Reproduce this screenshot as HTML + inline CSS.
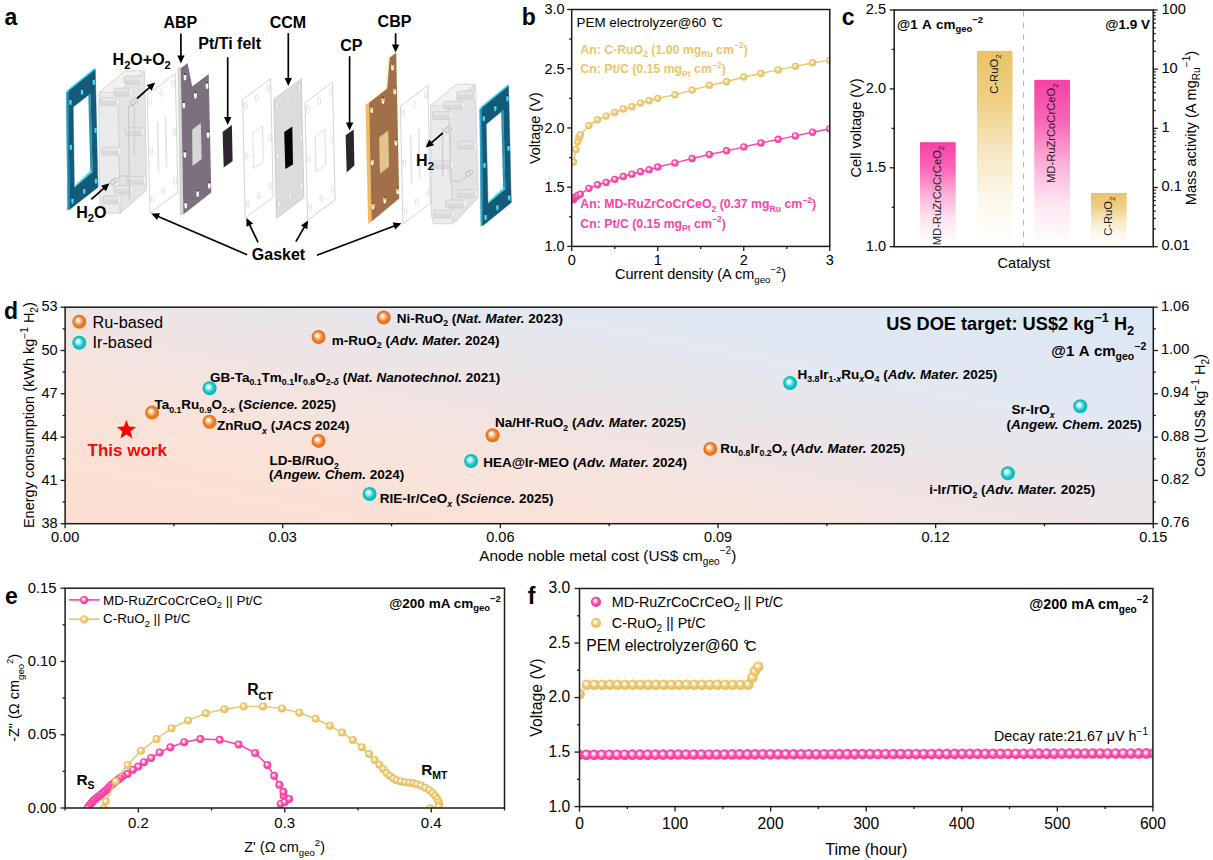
<!DOCTYPE html><html><head><meta charset="utf-8"><title>Figure</title><style>html,body{margin:0;padding:0;background:#fff;width:1213px;height:860px;overflow:hidden;}svg{display:block;font-family:"Liberation Sans", sans-serif;}</style></head><body><svg width="1213" height="860" viewBox="0 0 1213 860" font-family='"Liberation Sans", sans-serif'><defs><radialGradient id="gPink" cx="0.5" cy="0.5" r="0.5" fx="0.38" fy="0.36"><stop offset="0" stop-color="#ffffff"/><stop offset="0.14" stop-color="#ffffff" stop-opacity="0.95"/><stop offset="0.42" stop-color="#FB8FCB"/><stop offset="0.68" stop-color="#FC42A6"/><stop offset="1" stop-color="#F83C9E"/></radialGradient><radialGradient id="gGold" cx="0.5" cy="0.5" r="0.5" fx="0.38" fy="0.36"><stop offset="0" stop-color="#ffffff"/><stop offset="0.14" stop-color="#ffffff" stop-opacity="0.95"/><stop offset="0.42" stop-color="#F3DCA0"/><stop offset="0.68" stop-color="#EAC56A"/><stop offset="1" stop-color="#E6BE5E"/></radialGradient><radialGradient id="gOr" cx="0.5" cy="0.5" r="0.5" fx="0.38" fy="0.36"><stop offset="0" stop-color="#ffffff"/><stop offset="0.14" stop-color="#ffffff" stop-opacity="0.95"/><stop offset="0.42" stop-color="#F7B37A"/><stop offset="0.68" stop-color="#EE7D25"/><stop offset="1" stop-color="#E06E18"/></radialGradient><radialGradient id="gCy" cx="0.5" cy="0.5" r="0.5" fx="0.38" fy="0.36"><stop offset="0" stop-color="#ffffff"/><stop offset="0.14" stop-color="#ffffff" stop-opacity="0.95"/><stop offset="0.42" stop-color="#7BE3E4"/><stop offset="0.68" stop-color="#12C4C6"/><stop offset="1" stop-color="#0BB3B6"/></radialGradient><clipPath id="clipB"><rect x="571.70" y="9.50" width="258.10" height="236.90"/></clipPath><linearGradient id="cPink" x1="0" y1="0" x2="0" y2="1"><stop offset="0" stop-color="#F940A4" stop-opacity="1"/><stop offset="0.25" stop-color="#F940A4" stop-opacity="0.8"/><stop offset="0.5" stop-color="#F940A4" stop-opacity="0.42"/><stop offset="0.75" stop-color="#F940A4" stop-opacity="0.13"/><stop offset="1" stop-color="#F940A4" stop-opacity="0"/></linearGradient><linearGradient id="cGold" x1="0" y1="0" x2="0" y2="1"><stop offset="0" stop-color="#EAC364" stop-opacity="1"/><stop offset="0.25" stop-color="#EAC364" stop-opacity="0.8"/><stop offset="0.5" stop-color="#EAC364" stop-opacity="0.42"/><stop offset="0.75" stop-color="#EAC364" stop-opacity="0.13"/><stop offset="1" stop-color="#EAC364" stop-opacity="0"/></linearGradient><linearGradient id="dBg" x1="0" y1="1" x2="1" y2="0"><stop offset="0" stop-color="#FCDFD2"/><stop offset="0.3" stop-color="#F9E3DA"/><stop offset="0.5" stop-color="#EEE4E5"/><stop offset="0.72" stop-color="#E2E8F2"/><stop offset="1" stop-color="#DBE7F5"/></linearGradient><clipPath id="clipE"><rect x="65.10" y="588.20" width="439.40" height="219.80"/></clipPath><clipPath id="clipF"><rect x="579.50" y="588.50" width="573.40" height="218.10"/></clipPath></defs><text x="4.50" y="25.00" font-size="23.00" text-anchor="start" font-weight="bold" fill="#000" ><tspan>a</tspan></text><text x="521.80" y="25.00" font-size="23.00" text-anchor="start" font-weight="bold" fill="#000" ><tspan>b</tspan></text><text x="841.80" y="25.00" font-size="23.00" text-anchor="start" font-weight="bold" fill="#000" ><tspan>c</tspan></text><text x="4.00" y="318.50" font-size="23.00" text-anchor="start" font-weight="bold" fill="#000" ><tspan>d</tspan></text><text x="5.00" y="603.60" font-size="23.00" text-anchor="start" font-weight="bold" fill="#000" ><tspan>e</tspan></text><text x="527.70" y="604.00" font-size="23.00" text-anchor="start" font-weight="bold" fill="#000" ><tspan>f</tspan></text><line x1="571.70" y1="246.40" x2="571.70" y2="250.90" stroke="#1a1a1a" stroke-width="1.30" /><line x1="657.73" y1="246.40" x2="657.73" y2="250.90" stroke="#1a1a1a" stroke-width="1.30" /><line x1="743.77" y1="246.40" x2="743.77" y2="250.90" stroke="#1a1a1a" stroke-width="1.30" /><line x1="829.80" y1="246.40" x2="829.80" y2="250.90" stroke="#1a1a1a" stroke-width="1.30" /><line x1="614.72" y1="246.40" x2="614.72" y2="248.90" stroke="#1a1a1a" stroke-width="1.30" /><line x1="700.75" y1="246.40" x2="700.75" y2="248.90" stroke="#1a1a1a" stroke-width="1.30" /><line x1="786.78" y1="246.40" x2="786.78" y2="248.90" stroke="#1a1a1a" stroke-width="1.30" /><line x1="571.70" y1="246.40" x2="567.20" y2="246.40" stroke="#1a1a1a" stroke-width="1.30" /><line x1="571.70" y1="187.18" x2="567.20" y2="187.18" stroke="#1a1a1a" stroke-width="1.30" /><line x1="571.70" y1="127.95" x2="567.20" y2="127.95" stroke="#1a1a1a" stroke-width="1.30" /><line x1="571.70" y1="68.72" x2="567.20" y2="68.72" stroke="#1a1a1a" stroke-width="1.30" /><line x1="571.70" y1="9.50" x2="567.20" y2="9.50" stroke="#1a1a1a" stroke-width="1.30" /><line x1="571.70" y1="216.79" x2="569.20" y2="216.79" stroke="#1a1a1a" stroke-width="1.30" /><line x1="571.70" y1="157.56" x2="569.20" y2="157.56" stroke="#1a1a1a" stroke-width="1.30" /><line x1="571.70" y1="98.34" x2="569.20" y2="98.34" stroke="#1a1a1a" stroke-width="1.30" /><line x1="571.70" y1="39.11" x2="569.20" y2="39.11" stroke="#1a1a1a" stroke-width="1.30" /><text x="571.70" y="265.00" font-size="14.50" text-anchor="middle" fill="#000" ><tspan>0</tspan></text><text x="657.73" y="265.00" font-size="14.50" text-anchor="middle" fill="#000" ><tspan>1</tspan></text><text x="743.77" y="265.00" font-size="14.50" text-anchor="middle" fill="#000" ><tspan>2</tspan></text><text x="829.80" y="265.00" font-size="14.50" text-anchor="middle" fill="#000" ><tspan>3</tspan></text><text x="564.60" y="251.30" font-size="14.50" text-anchor="end" fill="#000" ><tspan>1.0</tspan></text><text x="564.60" y="192.08" font-size="14.50" text-anchor="end" fill="#000" ><tspan>1.5</tspan></text><text x="564.60" y="132.85" font-size="14.50" text-anchor="end" fill="#000" ><tspan>2.0</tspan></text><text x="564.60" y="73.62" font-size="14.50" text-anchor="end" fill="#000" ><tspan>2.5</tspan></text><text x="564.60" y="14.40" font-size="14.50" text-anchor="end" fill="#000" ><tspan>3.0</tspan></text><text x="700.50" y="278.60" font-size="14.50" text-anchor="middle" fill="#000" ><tspan>Current density (A cm</tspan><tspan dy="4.06" font-size="9.57">geo</tspan><tspan dy="-10.15" font-size="9.57">−2</tspan><tspan dy="6.09">)</tspan></text><text x="539.80" y="128.20" font-size="14.50" text-anchor="middle" fill="#000" transform="rotate(-90 539.80 128.20)" ><tspan>Voltage (V)</tspan></text><text x="576.60" y="26.70" font-size="13.40" text-anchor="start" fill="#000" ><tspan>PEM electrolyzer@60</tspan></text><text x="713.20" y="26.70" font-size="13.00" text-anchor="start" fill="#000" font-weight="normal"><tspan>C</tspan></text><circle cx="713.8" cy="19.4" r="1.35" fill="none" stroke="#000" stroke-width="0.8"/><text x="580.30" y="53.60" font-size="12.30" text-anchor="start" font-weight="bold" fill="#EAC56A" ><tspan>An: C-RuO</tspan><tspan dy="3.44" font-size="8.61">2</tspan><tspan dy="-3.44"> (1.00 mg</tspan><tspan dy="3.44" font-size="8.61">Ru</tspan><tspan dy="-3.44"> cm</tspan><tspan dy="-5.17" font-size="8.61">−2</tspan><tspan dy="5.17">)</tspan></text><text x="580.30" y="73.40" font-size="12.30" text-anchor="start" font-weight="bold" fill="#EAC56A" ><tspan>Cn: Pt/C (0.15 mg</tspan><tspan dy="3.44" font-size="8.61">Pt</tspan><tspan dy="-3.44"> cm</tspan><tspan dy="-5.17" font-size="8.61">−2</tspan><tspan dy="5.17">)</tspan></text><text x="580.30" y="208.30" font-size="12.30" text-anchor="start" font-weight="bold" fill="#FC42A6" ><tspan>An: MD-RuZrCoCrCeO</tspan><tspan dy="3.44" font-size="8.61">2</tspan><tspan dy="-3.44"> (0.37 mg</tspan><tspan dy="3.44" font-size="8.61">Ru</tspan><tspan dy="-3.44"> cm</tspan><tspan dy="-5.17" font-size="8.61">−2</tspan><tspan dy="5.17">)</tspan></text><text x="580.30" y="227.60" font-size="12.30" text-anchor="start" font-weight="bold" fill="#FC42A6" ><tspan>Cn: Pt/C (0.15 mg</tspan><tspan dy="3.44" font-size="8.61">Pt</tspan><tspan dy="-3.44"> cm</tspan><tspan dy="-5.17" font-size="8.61">−2</tspan><tspan dy="5.17">)</tspan></text><g clip-path="url(#clipB)"><polyline points="573.42,161.95 576.00,149.39 577.72,141.69 579.01,137.66 580.30,135.06 588.91,125.58 597.51,119.66 606.11,116.10 614.72,112.55 623.32,109.00 631.92,106.63 640.53,103.08 649.13,100.71 657.73,98.34 674.94,94.78 692.15,90.05 709.35,85.31 726.56,81.75 743.77,77.02 760.97,73.46 778.18,69.91 795.39,66.36 812.59,62.80 829.80,60.43" fill="none" stroke="#EAC56A" stroke-width="1.40" stroke-linejoin="round" /><circle cx="573.42" cy="161.95" r="3.70" fill="url(#gGold)"/><circle cx="576.00" cy="149.39" r="3.70" fill="url(#gGold)"/><circle cx="577.72" cy="141.69" r="3.70" fill="url(#gGold)"/><circle cx="579.01" cy="137.66" r="3.70" fill="url(#gGold)"/><circle cx="580.30" cy="135.06" r="3.70" fill="url(#gGold)"/><circle cx="588.91" cy="125.58" r="3.70" fill="url(#gGold)"/><circle cx="597.51" cy="119.66" r="3.70" fill="url(#gGold)"/><circle cx="606.11" cy="116.10" r="3.70" fill="url(#gGold)"/><circle cx="614.72" cy="112.55" r="3.70" fill="url(#gGold)"/><circle cx="623.32" cy="109.00" r="3.70" fill="url(#gGold)"/><circle cx="631.92" cy="106.63" r="3.70" fill="url(#gGold)"/><circle cx="640.53" cy="103.08" r="3.70" fill="url(#gGold)"/><circle cx="649.13" cy="100.71" r="3.70" fill="url(#gGold)"/><circle cx="657.73" cy="98.34" r="3.70" fill="url(#gGold)"/><circle cx="674.94" cy="94.78" r="3.70" fill="url(#gGold)"/><circle cx="692.15" cy="90.05" r="3.70" fill="url(#gGold)"/><circle cx="709.35" cy="85.31" r="3.70" fill="url(#gGold)"/><circle cx="726.56" cy="81.75" r="3.70" fill="url(#gGold)"/><circle cx="743.77" cy="77.02" r="3.70" fill="url(#gGold)"/><circle cx="760.97" cy="73.46" r="3.70" fill="url(#gGold)"/><circle cx="778.18" cy="69.91" r="3.70" fill="url(#gGold)"/><circle cx="795.39" cy="66.36" r="3.70" fill="url(#gGold)"/><circle cx="812.59" cy="62.80" r="3.70" fill="url(#gGold)"/><circle cx="829.80" cy="60.43" r="3.70" fill="url(#gGold)"/><polyline points="573.42,199.73 574.28,197.84 576.00,196.65 577.72,195.47 580.30,194.28 588.91,188.36 597.51,184.81 606.11,182.44 614.72,179.36 623.32,176.51 631.92,174.15 640.53,171.78 649.13,169.64 657.73,167.04 674.94,162.89 692.15,158.51 709.35,154.48 726.56,150.81 743.77,146.90 760.97,142.99 778.18,139.32 795.39,135.89 812.59,132.21 829.80,128.78" fill="none" stroke="#FC42A6" stroke-width="1.40" stroke-linejoin="round" /><circle cx="573.42" cy="199.73" r="3.70" fill="url(#gPink)"/><circle cx="574.28" cy="197.84" r="3.70" fill="url(#gPink)"/><circle cx="576.00" cy="196.65" r="3.70" fill="url(#gPink)"/><circle cx="577.72" cy="195.47" r="3.70" fill="url(#gPink)"/><circle cx="580.30" cy="194.28" r="3.70" fill="url(#gPink)"/><circle cx="588.91" cy="188.36" r="3.70" fill="url(#gPink)"/><circle cx="597.51" cy="184.81" r="3.70" fill="url(#gPink)"/><circle cx="606.11" cy="182.44" r="3.70" fill="url(#gPink)"/><circle cx="614.72" cy="179.36" r="3.70" fill="url(#gPink)"/><circle cx="623.32" cy="176.51" r="3.70" fill="url(#gPink)"/><circle cx="631.92" cy="174.15" r="3.70" fill="url(#gPink)"/><circle cx="640.53" cy="171.78" r="3.70" fill="url(#gPink)"/><circle cx="649.13" cy="169.64" r="3.70" fill="url(#gPink)"/><circle cx="657.73" cy="167.04" r="3.70" fill="url(#gPink)"/><circle cx="674.94" cy="162.89" r="3.70" fill="url(#gPink)"/><circle cx="692.15" cy="158.51" r="3.70" fill="url(#gPink)"/><circle cx="709.35" cy="154.48" r="3.70" fill="url(#gPink)"/><circle cx="726.56" cy="150.81" r="3.70" fill="url(#gPink)"/><circle cx="743.77" cy="146.90" r="3.70" fill="url(#gPink)"/><circle cx="760.97" cy="142.99" r="3.70" fill="url(#gPink)"/><circle cx="778.18" cy="139.32" r="3.70" fill="url(#gPink)"/><circle cx="795.39" cy="135.89" r="3.70" fill="url(#gPink)"/><circle cx="812.59" cy="132.21" r="3.70" fill="url(#gPink)"/><circle cx="829.80" cy="128.78" r="3.70" fill="url(#gPink)"/></g><rect x="571.70" y="9.50" width="258.10" height="236.90" fill="none" stroke="#1a1a1a" stroke-width="1.50"/><rect x="920.00" y="142.20" width="35.70" height="103.50" fill="url(#cPink)"/><text x="941.05" y="145.80" font-size="11.20" text-anchor="end" fill="#1a1a1a" transform="rotate(-90 941.05 145.80)" ><tspan>MD-RuZrCoCrCeO</tspan><tspan dy="3.14" font-size="7.84">2</tspan></text><rect x="977.00" y="50.90" width="35.50" height="194.80" fill="url(#cGold)"/><text x="997.95" y="54.50" font-size="11.20" text-anchor="end" fill="#1a1a1a" transform="rotate(-90 997.95 54.50)" ><tspan>C-RuO</tspan><tspan dy="3.14" font-size="7.84">2</tspan></text><rect x="1034.30" y="79.90" width="35.70" height="165.80" fill="url(#cPink)"/><text x="1055.35" y="83.50" font-size="11.20" text-anchor="end" fill="#1a1a1a" transform="rotate(-90 1055.35 83.50)" ><tspan>MD-RuZrCoCrCeO</tspan><tspan dy="3.14" font-size="7.84">2</tspan></text><rect x="1091.00" y="193.00" width="35.70" height="52.70" fill="url(#cGold)"/><text x="1112.05" y="196.60" font-size="11.20" text-anchor="end" fill="#1a1a1a" transform="rotate(-90 1112.05 196.60)" ><tspan>C-RuO</tspan><tspan dy="3.14" font-size="7.84">2</tspan></text><line x1="1023.60" y1="11.00" x2="1023.60" y2="246.70" stroke="#b0b0b0" stroke-width="1.00" stroke-dasharray="5.6,6"/><rect x="894.20" y="10.00" width="259.00" height="236.70" fill="none" stroke="#1a1a1a" stroke-width="1.50"/><line x1="894.20" y1="246.70" x2="889.70" y2="246.70" stroke="#1a1a1a" stroke-width="1.30" /><line x1="894.20" y1="167.80" x2="889.70" y2="167.80" stroke="#1a1a1a" stroke-width="1.30" /><line x1="894.20" y1="88.90" x2="889.70" y2="88.90" stroke="#1a1a1a" stroke-width="1.30" /><line x1="894.20" y1="10.00" x2="889.70" y2="10.00" stroke="#1a1a1a" stroke-width="1.30" /><line x1="894.20" y1="207.25" x2="891.70" y2="207.25" stroke="#1a1a1a" stroke-width="1.30" /><line x1="894.20" y1="128.35" x2="891.70" y2="128.35" stroke="#1a1a1a" stroke-width="1.30" /><line x1="894.20" y1="49.45" x2="891.70" y2="49.45" stroke="#1a1a1a" stroke-width="1.30" /><line x1="1153.20" y1="246.70" x2="1157.70" y2="246.70" stroke="#1a1a1a" stroke-width="1.30" /><line x1="1153.20" y1="187.52" x2="1157.70" y2="187.52" stroke="#1a1a1a" stroke-width="1.30" /><line x1="1153.20" y1="128.35" x2="1157.70" y2="128.35" stroke="#1a1a1a" stroke-width="1.30" /><line x1="1153.20" y1="69.18" x2="1157.70" y2="69.18" stroke="#1a1a1a" stroke-width="1.30" /><line x1="1153.20" y1="10.00" x2="1157.70" y2="10.00" stroke="#1a1a1a" stroke-width="1.30" /><line x1="1153.20" y1="228.89" x2="1155.70" y2="228.89" stroke="#1a1a1a" stroke-width="1.30" /><line x1="1153.20" y1="218.47" x2="1155.70" y2="218.47" stroke="#1a1a1a" stroke-width="1.30" /><line x1="1153.20" y1="211.07" x2="1155.70" y2="211.07" stroke="#1a1a1a" stroke-width="1.30" /><line x1="1153.20" y1="205.34" x2="1155.70" y2="205.34" stroke="#1a1a1a" stroke-width="1.30" /><line x1="1153.20" y1="200.65" x2="1155.70" y2="200.65" stroke="#1a1a1a" stroke-width="1.30" /><line x1="1153.20" y1="196.69" x2="1155.70" y2="196.69" stroke="#1a1a1a" stroke-width="1.30" /><line x1="1153.20" y1="193.26" x2="1155.70" y2="193.26" stroke="#1a1a1a" stroke-width="1.30" /><line x1="1153.20" y1="190.23" x2="1155.70" y2="190.23" stroke="#1a1a1a" stroke-width="1.30" /><line x1="1153.20" y1="169.71" x2="1155.70" y2="169.71" stroke="#1a1a1a" stroke-width="1.30" /><line x1="1153.20" y1="159.29" x2="1155.70" y2="159.29" stroke="#1a1a1a" stroke-width="1.30" /><line x1="1153.20" y1="151.90" x2="1155.70" y2="151.90" stroke="#1a1a1a" stroke-width="1.30" /><line x1="1153.20" y1="146.16" x2="1155.70" y2="146.16" stroke="#1a1a1a" stroke-width="1.30" /><line x1="1153.20" y1="141.48" x2="1155.70" y2="141.48" stroke="#1a1a1a" stroke-width="1.30" /><line x1="1153.20" y1="137.52" x2="1155.70" y2="137.52" stroke="#1a1a1a" stroke-width="1.30" /><line x1="1153.20" y1="134.08" x2="1155.70" y2="134.08" stroke="#1a1a1a" stroke-width="1.30" /><line x1="1153.20" y1="131.06" x2="1155.70" y2="131.06" stroke="#1a1a1a" stroke-width="1.30" /><line x1="1153.20" y1="110.54" x2="1155.70" y2="110.54" stroke="#1a1a1a" stroke-width="1.30" /><line x1="1153.20" y1="100.12" x2="1155.70" y2="100.12" stroke="#1a1a1a" stroke-width="1.30" /><line x1="1153.20" y1="92.72" x2="1155.70" y2="92.72" stroke="#1a1a1a" stroke-width="1.30" /><line x1="1153.20" y1="86.99" x2="1155.70" y2="86.99" stroke="#1a1a1a" stroke-width="1.30" /><line x1="1153.20" y1="82.30" x2="1155.70" y2="82.30" stroke="#1a1a1a" stroke-width="1.30" /><line x1="1153.20" y1="78.34" x2="1155.70" y2="78.34" stroke="#1a1a1a" stroke-width="1.30" /><line x1="1153.20" y1="74.91" x2="1155.70" y2="74.91" stroke="#1a1a1a" stroke-width="1.30" /><line x1="1153.20" y1="71.88" x2="1155.70" y2="71.88" stroke="#1a1a1a" stroke-width="1.30" /><line x1="1153.20" y1="51.36" x2="1155.70" y2="51.36" stroke="#1a1a1a" stroke-width="1.30" /><line x1="1153.20" y1="40.94" x2="1155.70" y2="40.94" stroke="#1a1a1a" stroke-width="1.30" /><line x1="1153.20" y1="33.55" x2="1155.70" y2="33.55" stroke="#1a1a1a" stroke-width="1.30" /><line x1="1153.20" y1="27.81" x2="1155.70" y2="27.81" stroke="#1a1a1a" stroke-width="1.30" /><line x1="1153.20" y1="23.13" x2="1155.70" y2="23.13" stroke="#1a1a1a" stroke-width="1.30" /><line x1="1153.20" y1="19.17" x2="1155.70" y2="19.17" stroke="#1a1a1a" stroke-width="1.30" /><line x1="1153.20" y1="15.73" x2="1155.70" y2="15.73" stroke="#1a1a1a" stroke-width="1.30" /><line x1="1153.20" y1="12.71" x2="1155.70" y2="12.71" stroke="#1a1a1a" stroke-width="1.30" /><text x="886.10" y="250.50" font-size="14.60" text-anchor="end" fill="#000" ><tspan>1.0</tspan></text><text x="886.10" y="171.60" font-size="14.60" text-anchor="end" fill="#000" ><tspan>1.5</tspan></text><text x="886.10" y="92.70" font-size="14.60" text-anchor="end" fill="#000" ><tspan>2.0</tspan></text><text x="886.10" y="13.80" font-size="14.60" text-anchor="end" fill="#000" ><tspan>2.5</tspan></text><text x="1161.50" y="250.40" font-size="14.60" text-anchor="start" fill="#000" ><tspan>0.01</tspan></text><text x="1161.50" y="191.22" font-size="14.60" text-anchor="start" fill="#000" ><tspan>0.1</tspan></text><text x="1161.50" y="132.05" font-size="14.60" text-anchor="start" fill="#000" ><tspan>1</tspan></text><text x="1161.50" y="72.88" font-size="14.60" text-anchor="start" fill="#000" ><tspan>10</tspan></text><text x="1161.50" y="13.70" font-size="14.60" text-anchor="start" fill="#000" ><tspan>100</tspan></text><text x="1023.80" y="267.60" font-size="14.50" text-anchor="middle" fill="#000" ><tspan>Catalyst</tspan></text><text x="860.60" y="128.00" font-size="14.50" text-anchor="middle" fill="#000" transform="rotate(-90 860.60 128.00)" ><tspan>Cell voltage (V)</tspan></text><text x="1196.00" y="128.00" font-size="14.50" text-anchor="middle" fill="#000" transform="rotate(-90 1196.00 128.00)" ><tspan>Mass activity (A mg</tspan><tspan dy="4.06" font-size="10.15">Ru</tspan><tspan dy="-10.15" font-size="10.15">−1</tspan><tspan dy="6.09">)</tspan></text><text x="897.00" y="28.70" font-size="13.50" text-anchor="start" font-weight="bold" fill="#000" word-spacing="1"><tspan>@1 A cm</tspan><tspan dy="3.78" font-size="9.45">geo</tspan><tspan dy="-9.45" font-size="9.45">−2</tspan></text><text x="1150.00" y="28.70" font-size="13.50" text-anchor="end" font-weight="bold" fill="#000" ><tspan>@1.9 V</tspan></text><rect x="65.10" y="307.20" width="1088.20" height="216.50" fill="url(#dBg)"/><rect x="65.10" y="307.20" width="1088.20" height="216.50" fill="none" stroke="#1a1a1a" stroke-width="1.50"/><line x1="65.10" y1="523.70" x2="65.10" y2="528.20" stroke="#1a1a1a" stroke-width="1.30" /><line x1="282.74" y1="523.70" x2="282.74" y2="528.20" stroke="#1a1a1a" stroke-width="1.30" /><line x1="500.38" y1="523.70" x2="500.38" y2="528.20" stroke="#1a1a1a" stroke-width="1.30" /><line x1="718.02" y1="523.70" x2="718.02" y2="528.20" stroke="#1a1a1a" stroke-width="1.30" /><line x1="935.66" y1="523.70" x2="935.66" y2="528.20" stroke="#1a1a1a" stroke-width="1.30" /><line x1="1153.30" y1="523.70" x2="1153.30" y2="528.20" stroke="#1a1a1a" stroke-width="1.30" /><line x1="173.92" y1="523.70" x2="173.92" y2="526.20" stroke="#1a1a1a" stroke-width="1.30" /><line x1="391.56" y1="523.70" x2="391.56" y2="526.20" stroke="#1a1a1a" stroke-width="1.30" /><line x1="609.20" y1="523.70" x2="609.20" y2="526.20" stroke="#1a1a1a" stroke-width="1.30" /><line x1="826.84" y1="523.70" x2="826.84" y2="526.20" stroke="#1a1a1a" stroke-width="1.30" /><line x1="1044.48" y1="523.70" x2="1044.48" y2="526.20" stroke="#1a1a1a" stroke-width="1.30" /><line x1="65.10" y1="523.70" x2="60.60" y2="523.70" stroke="#1a1a1a" stroke-width="1.30" /><line x1="65.10" y1="480.40" x2="60.60" y2="480.40" stroke="#1a1a1a" stroke-width="1.30" /><line x1="65.10" y1="437.10" x2="60.60" y2="437.10" stroke="#1a1a1a" stroke-width="1.30" /><line x1="65.10" y1="393.80" x2="60.60" y2="393.80" stroke="#1a1a1a" stroke-width="1.30" /><line x1="65.10" y1="350.50" x2="60.60" y2="350.50" stroke="#1a1a1a" stroke-width="1.30" /><line x1="65.10" y1="307.20" x2="60.60" y2="307.20" stroke="#1a1a1a" stroke-width="1.30" /><line x1="65.10" y1="502.05" x2="62.60" y2="502.05" stroke="#1a1a1a" stroke-width="1.30" /><line x1="65.10" y1="458.75" x2="62.60" y2="458.75" stroke="#1a1a1a" stroke-width="1.30" /><line x1="65.10" y1="415.45" x2="62.60" y2="415.45" stroke="#1a1a1a" stroke-width="1.30" /><line x1="65.10" y1="372.15" x2="62.60" y2="372.15" stroke="#1a1a1a" stroke-width="1.30" /><line x1="65.10" y1="328.85" x2="62.60" y2="328.85" stroke="#1a1a1a" stroke-width="1.30" /><line x1="1153.30" y1="523.70" x2="1157.80" y2="523.70" stroke="#1a1a1a" stroke-width="1.30" /><line x1="1153.30" y1="480.40" x2="1157.80" y2="480.40" stroke="#1a1a1a" stroke-width="1.30" /><line x1="1153.30" y1="437.10" x2="1157.80" y2="437.10" stroke="#1a1a1a" stroke-width="1.30" /><line x1="1153.30" y1="393.80" x2="1157.80" y2="393.80" stroke="#1a1a1a" stroke-width="1.30" /><line x1="1153.30" y1="350.50" x2="1157.80" y2="350.50" stroke="#1a1a1a" stroke-width="1.30" /><line x1="1153.30" y1="307.20" x2="1157.80" y2="307.20" stroke="#1a1a1a" stroke-width="1.30" /><line x1="1153.30" y1="502.05" x2="1155.80" y2="502.05" stroke="#1a1a1a" stroke-width="1.30" /><line x1="1153.30" y1="458.75" x2="1155.80" y2="458.75" stroke="#1a1a1a" stroke-width="1.30" /><line x1="1153.30" y1="415.45" x2="1155.80" y2="415.45" stroke="#1a1a1a" stroke-width="1.30" /><line x1="1153.30" y1="372.15" x2="1155.80" y2="372.15" stroke="#1a1a1a" stroke-width="1.30" /><line x1="1153.30" y1="328.85" x2="1155.80" y2="328.85" stroke="#1a1a1a" stroke-width="1.30" /><text x="65.10" y="541.80" font-size="14.50" text-anchor="middle" fill="#000" ><tspan>0.00</tspan></text><text x="282.74" y="541.80" font-size="14.50" text-anchor="middle" fill="#000" ><tspan>0.03</tspan></text><text x="500.38" y="541.80" font-size="14.50" text-anchor="middle" fill="#000" ><tspan>0.06</tspan></text><text x="718.02" y="541.80" font-size="14.50" text-anchor="middle" fill="#000" ><tspan>0.09</tspan></text><text x="935.66" y="541.80" font-size="14.50" text-anchor="middle" fill="#000" ><tspan>0.12</tspan></text><text x="1153.30" y="541.80" font-size="14.50" text-anchor="middle" fill="#000" ><tspan>0.15</tspan></text><text x="57.60" y="527.90" font-size="14.50" text-anchor="end" fill="#000" ><tspan>38</tspan></text><text x="57.60" y="484.60" font-size="14.50" text-anchor="end" fill="#000" ><tspan>41</tspan></text><text x="57.60" y="441.30" font-size="14.50" text-anchor="end" fill="#000" ><tspan>44</tspan></text><text x="57.60" y="398.00" font-size="14.50" text-anchor="end" fill="#000" ><tspan>47</tspan></text><text x="57.60" y="354.70" font-size="14.50" text-anchor="end" fill="#000" ><tspan>50</tspan></text><text x="57.60" y="311.40" font-size="14.50" text-anchor="end" fill="#000" ><tspan>53</tspan></text><text x="1161.00" y="527.30" font-size="14.50" text-anchor="start" fill="#000" ><tspan>0.76</tspan></text><text x="1161.00" y="484.00" font-size="14.50" text-anchor="start" fill="#000" ><tspan>0.82</tspan></text><text x="1161.00" y="440.70" font-size="14.50" text-anchor="start" fill="#000" ><tspan>0.88</tspan></text><text x="1161.00" y="397.40" font-size="14.50" text-anchor="start" fill="#000" ><tspan>0.94</tspan></text><text x="1161.00" y="354.10" font-size="14.50" text-anchor="start" fill="#000" ><tspan>1.00</tspan></text><text x="1161.00" y="310.80" font-size="14.50" text-anchor="start" fill="#000" ><tspan>1.06</tspan></text><text x="479.20" y="560.90" font-size="15.30" text-anchor="start" fill="#000" ><tspan>Anode noble metal cost (US$ cm</tspan><tspan dy="4.28" font-size="10.10">geo</tspan><tspan dy="-10.71" font-size="10.10">−2</tspan><tspan dy="6.43">)</tspan></text><text x="34.00" y="415.10" font-size="14.50" text-anchor="middle" fill="#000" transform="rotate(-90 34.00 415.10)" ><tspan>Energy consumption (kWh kg</tspan><tspan dy="-6.09" font-size="10.15">−1</tspan><tspan dy="6.09"> H</tspan><tspan dy="4.06" font-size="10.15">2</tspan><tspan dy="-4.06">)</tspan></text><text x="1205.20" y="415.50" font-size="14.50" text-anchor="middle" fill="#000" transform="rotate(-90 1205.20 415.50)" ><tspan>Cost (US$ kg</tspan><tspan dy="-6.09" font-size="10.15">−1</tspan><tspan dy="6.09"> H</tspan><tspan dy="4.06" font-size="10.15">2</tspan><tspan dy="-4.06">)</tspan></text><circle cx="79.30" cy="321.80" r="7.00" fill="url(#gOr)"/><text x="92.50" y="328.40" font-size="16.30" text-anchor="start" fill="#000" ><tspan>Ru-based</tspan></text><circle cx="79.30" cy="342.80" r="7.00" fill="url(#gCy)"/><text x="92.50" y="348.20" font-size="16.30" text-anchor="start" fill="#000" ><tspan>Ir-based</tspan></text><text x="886.20" y="329.80" font-size="18.20" text-anchor="start" font-weight="bold" fill="#000" ><tspan>US DOE target: US$2 kg</tspan><tspan dy="-7.64" font-size="12.74">−1</tspan><tspan dy="7.64"> H</tspan><tspan dy="5.10" font-size="12.74">2</tspan></text><text x="1051.30" y="356.00" font-size="15.00" text-anchor="start" font-weight="bold" fill="#000" word-spacing="0.8"><tspan>@1 A cm</tspan><tspan dy="4.20" font-size="10.50">geo</tspan><tspan dy="-10.50" font-size="10.50">−2</tspan></text><circle cx="383.70" cy="317.50" r="7.00" fill="url(#gOr)"/><circle cx="318.60" cy="337.00" r="7.00" fill="url(#gOr)"/><circle cx="209.60" cy="388.30" r="7.00" fill="url(#gCy)"/><circle cx="152.00" cy="412.60" r="7.00" fill="url(#gOr)"/><circle cx="209.60" cy="421.70" r="7.00" fill="url(#gOr)"/><circle cx="318.50" cy="440.90" r="7.00" fill="url(#gOr)"/><circle cx="369.60" cy="494.00" r="7.00" fill="url(#gCy)"/><circle cx="492.60" cy="435.30" r="7.00" fill="url(#gOr)"/><circle cx="471.10" cy="461.00" r="7.00" fill="url(#gCy)"/><circle cx="710.30" cy="448.90" r="7.00" fill="url(#gOr)"/><circle cx="790.10" cy="383.10" r="7.00" fill="url(#gCy)"/><circle cx="1080.30" cy="406.30" r="7.00" fill="url(#gCy)"/><circle cx="1007.90" cy="473.30" r="7.00" fill="url(#gCy)"/><polygon points="126.40,419.90 128.93,426.62 136.10,426.95 130.49,431.43 132.40,438.35 126.40,434.40 120.40,438.35 122.31,431.43 116.70,426.95 123.87,426.62" fill="#FF0000" stroke="none" stroke-width="1.00" /><text x="87.60" y="455.70" font-size="17.00" text-anchor="start" font-weight="bold" fill="#F50A0A" ><tspan>This work</tspan></text><text x="396.70" y="322.60" font-size="13.50" text-anchor="start" font-weight="bold" fill="#000" ><tspan>Ni-RuO</tspan><tspan dy="3.78" font-size="8.78">2</tspan><tspan dy="-3.78"> (</tspan><tspan font-style="italic">Nat. Mater.</tspan><tspan> 2023)</tspan></text><text x="331.80" y="344.50" font-size="13.50" text-anchor="start" font-weight="bold" fill="#000" ><tspan>m-RuO</tspan><tspan dy="3.78" font-size="8.78">2</tspan><tspan dy="-3.78"> (</tspan><tspan font-style="italic">Adv. Mater.</tspan><tspan> 2024)</tspan></text><text x="209.90" y="381.70" font-size="13.50" text-anchor="start" font-weight="bold" fill="#000" ><tspan>GB-Ta</tspan><tspan dy="3.78" font-size="8.78">0.1</tspan><tspan dy="-3.78">Tm</tspan><tspan dy="3.78" font-size="8.78">0.1</tspan><tspan dy="-3.78">Ir</tspan><tspan dy="3.78" font-size="8.78">0.8</tspan><tspan dy="-3.78">O</tspan><tspan dy="3.78" font-size="8.78">2-</tspan><tspan font-size="8.78" font-style="italic">δ</tspan><tspan dy="-3.78"> (</tspan><tspan font-style="italic">Nat. Nanotechnol.</tspan><tspan> 2021)</tspan></text><text x="154.40" y="408.80" font-size="13.50" text-anchor="start" font-weight="bold" fill="#000" ><tspan>Ta</tspan><tspan dy="3.78" font-size="8.78">0.1</tspan><tspan dy="-3.78">Ru</tspan><tspan dy="3.78" font-size="8.78">0.9</tspan><tspan dy="-3.78">O</tspan><tspan dy="3.78" font-size="8.78">2-</tspan><tspan font-size="8.78" font-style="italic">x</tspan><tspan dy="-3.78"> (</tspan><tspan font-style="italic">Science.</tspan><tspan> 2025)</tspan></text><text x="217.00" y="430.20" font-size="13.50" text-anchor="start" font-weight="bold" fill="#000" ><tspan>ZnRuO</tspan><tspan dy="3.78" font-size="8.78" font-style="italic">x</tspan><tspan dy="-3.78"> (</tspan><tspan font-style="italic">JACS</tspan><tspan> 2024)</tspan></text><text x="269.40" y="464.80" font-size="13.50" text-anchor="start" font-weight="bold" fill="#000" ><tspan>LD-B/RuO</tspan><tspan dy="3.78" font-size="8.78">2</tspan></text><text x="268.90" y="479.00" font-size="13.50" text-anchor="start" font-weight="bold" fill="#000" ><tspan>(</tspan><tspan font-style="italic">Angew. Chem.</tspan><tspan> 2024)</tspan></text><text x="379.70" y="502.90" font-size="13.50" text-anchor="start" font-weight="bold" fill="#000" ><tspan>RIE-Ir/CeO</tspan><tspan dy="3.78" font-size="8.78" font-style="italic">x</tspan><tspan dy="-3.78"> (</tspan><tspan font-style="italic">Science.</tspan><tspan> 2025)</tspan></text><text x="495.10" y="427.00" font-size="13.50" text-anchor="start" font-weight="bold" fill="#000" ><tspan>Na/Hf-RuO</tspan><tspan dy="3.78" font-size="8.78">2</tspan><tspan dy="-3.78"> (</tspan><tspan font-style="italic">Adv. Mater.</tspan><tspan> 2025)</tspan></text><text x="483.20" y="467.00" font-size="13.50" text-anchor="start" font-weight="bold" fill="#000" ><tspan>HEA@Ir-MEO (</tspan><tspan font-style="italic">Adv. Mater.</tspan><tspan> 2024)</tspan></text><text x="720.30" y="452.70" font-size="13.50" text-anchor="start" font-weight="bold" fill="#000" ><tspan>Ru</tspan><tspan dy="3.78" font-size="8.78">0.8</tspan><tspan dy="-3.78">Ir</tspan><tspan dy="3.78" font-size="8.78">0.2</tspan><tspan dy="-3.78">O</tspan><tspan dy="3.78" font-size="8.78" font-style="italic">x</tspan><tspan dy="-3.78"> (</tspan><tspan font-style="italic">Adv. Mater.</tspan><tspan> 2025)</tspan></text><text x="797.50" y="378.50" font-size="13.50" text-anchor="start" font-weight="bold" fill="#000" ><tspan>H</tspan><tspan dy="3.78" font-size="8.78">3.8</tspan><tspan dy="-3.78">Ir</tspan><tspan dy="3.78" font-size="8.78">1-</tspan><tspan font-size="8.78" font-style="italic">x</tspan><tspan dy="-3.78">Ru</tspan><tspan dy="3.78" font-size="8.78" font-style="italic">x</tspan><tspan dy="-3.78">O</tspan><tspan dy="3.78" font-size="8.78">4</tspan><tspan dy="-3.78"> (</tspan><tspan font-style="italic">Adv. Mater.</tspan><tspan> 2025)</tspan></text><text x="1011.60" y="413.80" font-size="13.50" text-anchor="start" font-weight="bold" fill="#000" ><tspan>Sr-IrO</tspan><tspan dy="3.78" font-size="8.78" font-style="italic">x</tspan></text><text x="1006.40" y="428.60" font-size="13.50" text-anchor="start" font-weight="bold" fill="#000" ><tspan>(</tspan><tspan font-style="italic">Angew. Chem.</tspan><tspan> 2025)</tspan></text><text x="929.20" y="494.30" font-size="13.50" text-anchor="start" font-weight="bold" fill="#000" ><tspan>i-Ir/TiO</tspan><tspan dy="3.78" font-size="8.78">2</tspan><tspan dy="-3.78"> (</tspan><tspan font-style="italic">Adv. Mater.</tspan><tspan> 2025)</tspan></text><line x1="138.33" y1="808.00" x2="138.33" y2="812.50" stroke="#1a1a1a" stroke-width="1.30" /><line x1="284.80" y1="808.00" x2="284.80" y2="812.50" stroke="#1a1a1a" stroke-width="1.30" /><line x1="431.27" y1="808.00" x2="431.27" y2="812.50" stroke="#1a1a1a" stroke-width="1.30" /><line x1="65.10" y1="808.00" x2="65.10" y2="810.50" stroke="#1a1a1a" stroke-width="1.30" /><line x1="211.57" y1="808.00" x2="211.57" y2="810.50" stroke="#1a1a1a" stroke-width="1.30" /><line x1="358.03" y1="808.00" x2="358.03" y2="810.50" stroke="#1a1a1a" stroke-width="1.30" /><line x1="504.50" y1="808.00" x2="504.50" y2="810.50" stroke="#1a1a1a" stroke-width="1.30" /><line x1="65.10" y1="808.00" x2="60.60" y2="808.00" stroke="#1a1a1a" stroke-width="1.30" /><line x1="65.10" y1="734.73" x2="60.60" y2="734.73" stroke="#1a1a1a" stroke-width="1.30" /><line x1="65.10" y1="661.47" x2="60.60" y2="661.47" stroke="#1a1a1a" stroke-width="1.30" /><line x1="65.10" y1="588.20" x2="60.60" y2="588.20" stroke="#1a1a1a" stroke-width="1.30" /><line x1="65.10" y1="771.37" x2="62.60" y2="771.37" stroke="#1a1a1a" stroke-width="1.30" /><line x1="65.10" y1="698.10" x2="62.60" y2="698.10" stroke="#1a1a1a" stroke-width="1.30" /><line x1="65.10" y1="624.83" x2="62.60" y2="624.83" stroke="#1a1a1a" stroke-width="1.30" /><text x="138.33" y="828.10" font-size="15.00" text-anchor="middle" fill="#000" ><tspan>0.2</tspan></text><text x="284.80" y="828.10" font-size="15.00" text-anchor="middle" fill="#000" ><tspan>0.3</tspan></text><text x="431.27" y="828.10" font-size="15.00" text-anchor="middle" fill="#000" ><tspan>0.4</tspan></text><text x="56.60" y="812.60" font-size="14.80" text-anchor="end" fill="#000" ><tspan>0.00</tspan></text><text x="56.60" y="739.33" font-size="14.80" text-anchor="end" fill="#000" ><tspan>0.05</tspan></text><text x="56.60" y="666.07" font-size="14.80" text-anchor="end" fill="#000" ><tspan>0.10</tspan></text><text x="56.60" y="592.80" font-size="14.80" text-anchor="end" fill="#000" ><tspan>0.15</tspan></text><text x="284.60" y="851.80" font-size="14.50" text-anchor="middle" fill="#000" ><tspan>Z&#x27; (Ω cm</tspan><tspan dy="4.06" font-size="9.57">geo</tspan><tspan dy="-10.15" font-size="9.57">2</tspan><tspan dy="6.09">)</tspan></text><text x="19.50" y="697.80" font-size="14.50" text-anchor="middle" fill="#000" transform="rotate(-90 19.50 697.80)" ><tspan>-Z&quot; (Ω cm</tspan><tspan dy="4.06" font-size="9.57">geo</tspan><tspan dy="-10.15" font-size="9.57">2</tspan><tspan dy="6.09">)</tspan></text><line x1="69.00" y1="599.90" x2="99.60" y2="599.90" stroke="#FC42A6" stroke-width="1.60" /><circle cx="84.20" cy="600.10" r="4.20" fill="url(#gPink)"/><line x1="69.00" y1="619.20" x2="99.60" y2="619.20" stroke="#EAC56A" stroke-width="1.60" /><circle cx="84.20" cy="619.40" r="4.20" fill="url(#gGold)"/><text x="103.00" y="604.50" font-size="13.40" text-anchor="start" fill="#000" ><tspan>MD-RuZrCoCrCeO</tspan><tspan dy="3.75" font-size="9.38">2</tspan><tspan dy="-3.75"> || Pt/C</tspan></text><text x="103.00" y="623.40" font-size="13.40" text-anchor="start" fill="#000" ><tspan>C-RuO</tspan><tspan dy="3.75" font-size="9.38">2</tspan><tspan dy="-3.75"> || Pt/C</tspan></text><text x="389.20" y="607.50" font-size="13.50" text-anchor="start" font-weight="bold" fill="#000" ><tspan>@200 mA cm</tspan><tspan dy="3.78" font-size="9.45">geo</tspan><tspan dy="-9.45" font-size="9.45">−2</tspan></text><text x="247.20" y="695.40" font-size="15.80" text-anchor="start" font-weight="bold" fill="#000" ><tspan>R</tspan><tspan dy="4.27" font-size="10.74">CT</tspan></text><text x="76.40" y="785.00" font-size="15.40" text-anchor="start" font-weight="bold" fill="#000" ><tspan>R</tspan><tspan dy="4.16" font-size="10.47">S</tspan></text><text x="421.20" y="774.70" font-size="15.40" text-anchor="start" font-weight="bold" fill="#000" ><tspan>R</tspan><tspan dy="4.16" font-size="10.47">MT</tspan></text><g clip-path="url(#clipE)"><polyline points="87.50,808.50 88.52,806.90 89.57,805.24 90.79,803.65 92.21,802.13 93.66,800.57 95.31,799.11 97.06,797.66 98.85,796.17 100.70,794.63 102.61,793.04 104.57,791.41 106.58,789.72 108.50,787.80 110.47,785.83 112.64,783.94 114.88,782.01 117.31,780.18 119.87,778.35 122.54,776.52 127.50,774.00 132.90,769.70 138.20,766.50 144.00,762.20 151.10,757.90 159.70,752.50 170.40,747.20 184.30,742.20 200.40,739.00 219.70,739.70 238.60,744.40 255.10,753.00 267.40,765.00 274.20,775.80 279.40,784.80 283.40,791.80 283.60,795.70 289.10,798.90 284.80,802.00 280.60,804.00" fill="none" stroke="#FC42A6" stroke-width="1.50" stroke-linejoin="round" /><circle cx="280.60" cy="804.00" r="4.00" fill="url(#gPink)"/><circle cx="284.80" cy="802.00" r="4.00" fill="url(#gPink)"/><circle cx="289.10" cy="798.90" r="4.00" fill="url(#gPink)"/><circle cx="283.60" cy="795.70" r="4.00" fill="url(#gPink)"/><circle cx="283.40" cy="791.80" r="4.00" fill="url(#gPink)"/><circle cx="279.40" cy="784.80" r="4.00" fill="url(#gPink)"/><circle cx="274.20" cy="775.80" r="4.00" fill="url(#gPink)"/><circle cx="267.40" cy="765.00" r="4.00" fill="url(#gPink)"/><circle cx="255.10" cy="753.00" r="4.00" fill="url(#gPink)"/><circle cx="238.60" cy="744.40" r="4.00" fill="url(#gPink)"/><circle cx="219.70" cy="739.70" r="4.00" fill="url(#gPink)"/><circle cx="200.40" cy="739.00" r="4.00" fill="url(#gPink)"/><circle cx="184.30" cy="742.20" r="4.00" fill="url(#gPink)"/><circle cx="170.40" cy="747.20" r="4.00" fill="url(#gPink)"/><circle cx="159.70" cy="752.50" r="4.00" fill="url(#gPink)"/><circle cx="151.10" cy="757.90" r="4.00" fill="url(#gPink)"/><circle cx="144.00" cy="762.20" r="4.00" fill="url(#gPink)"/><circle cx="138.20" cy="766.50" r="4.00" fill="url(#gPink)"/><circle cx="132.90" cy="769.70" r="4.00" fill="url(#gPink)"/><circle cx="127.50" cy="774.00" r="4.00" fill="url(#gPink)"/><circle cx="122.54" cy="776.52" r="4.00" fill="url(#gPink)"/><circle cx="119.87" cy="778.35" r="4.00" fill="url(#gPink)"/><circle cx="117.31" cy="780.18" r="4.00" fill="url(#gPink)"/><circle cx="114.88" cy="782.01" r="4.00" fill="url(#gPink)"/><circle cx="112.64" cy="783.94" r="4.00" fill="url(#gPink)"/><circle cx="110.47" cy="785.83" r="4.00" fill="url(#gPink)"/><circle cx="108.50" cy="787.80" r="4.00" fill="url(#gPink)"/><circle cx="106.58" cy="789.72" r="4.00" fill="url(#gPink)"/><circle cx="104.57" cy="791.41" r="4.00" fill="url(#gPink)"/><circle cx="102.61" cy="793.04" r="4.00" fill="url(#gPink)"/><circle cx="100.70" cy="794.63" r="4.00" fill="url(#gPink)"/><circle cx="98.85" cy="796.17" r="4.00" fill="url(#gPink)"/><circle cx="97.06" cy="797.66" r="4.00" fill="url(#gPink)"/><circle cx="95.31" cy="799.11" r="4.00" fill="url(#gPink)"/><circle cx="93.66" cy="800.57" r="4.00" fill="url(#gPink)"/><circle cx="92.21" cy="802.13" r="4.00" fill="url(#gPink)"/><circle cx="90.79" cy="803.65" r="4.00" fill="url(#gPink)"/><circle cx="89.57" cy="805.24" r="4.00" fill="url(#gPink)"/><circle cx="88.52" cy="806.90" r="4.00" fill="url(#gPink)"/><circle cx="87.50" cy="808.50" r="4.00" fill="url(#gPink)"/><polyline points="103.70,808.20 105.80,801.30 115.60,781.40 127.60,764.90 141.00,750.80 156.50,739.00 171.50,728.30 188.00,720.40 205.80,713.30 224.40,709.20 243.70,706.40 263.00,706.40 282.00,708.40 299.40,712.70 315.60,718.80 329.90,725.70 342.00,732.60 352.90,739.90 361.80,747.20 368.90,754.10 374.60,759.90 379.40,764.80 383.30,768.90 386.70,773.10 390.00,776.00 393.40,778.50 396.70,780.20 400.90,781.40 405.10,782.30 409.30,782.80 413.50,783.30 416.80,784.20 421.00,785.60 425.20,787.70 429.40,790.20 432.70,793.10 435.20,796.10 437.30,799.00 438.60,801.90 439.40,804.40 438.80,806.60 430.20,808.30" fill="none" stroke="#EAC56A" stroke-width="1.50" stroke-linejoin="round" /><circle cx="103.70" cy="808.20" r="4.00" fill="url(#gGold)"/><circle cx="105.80" cy="801.30" r="4.00" fill="url(#gGold)"/><circle cx="115.60" cy="781.40" r="4.00" fill="url(#gGold)"/><circle cx="127.60" cy="764.90" r="4.00" fill="url(#gGold)"/><circle cx="141.00" cy="750.80" r="4.00" fill="url(#gGold)"/><circle cx="156.50" cy="739.00" r="4.00" fill="url(#gGold)"/><circle cx="171.50" cy="728.30" r="4.00" fill="url(#gGold)"/><circle cx="188.00" cy="720.40" r="4.00" fill="url(#gGold)"/><circle cx="205.80" cy="713.30" r="4.00" fill="url(#gGold)"/><circle cx="224.40" cy="709.20" r="4.00" fill="url(#gGold)"/><circle cx="243.70" cy="706.40" r="4.00" fill="url(#gGold)"/><circle cx="263.00" cy="706.40" r="4.00" fill="url(#gGold)"/><circle cx="282.00" cy="708.40" r="4.00" fill="url(#gGold)"/><circle cx="299.40" cy="712.70" r="4.00" fill="url(#gGold)"/><circle cx="315.60" cy="718.80" r="4.00" fill="url(#gGold)"/><circle cx="329.90" cy="725.70" r="4.00" fill="url(#gGold)"/><circle cx="342.00" cy="732.60" r="4.00" fill="url(#gGold)"/><circle cx="352.90" cy="739.90" r="4.00" fill="url(#gGold)"/><circle cx="361.80" cy="747.20" r="4.00" fill="url(#gGold)"/><circle cx="368.90" cy="754.10" r="4.00" fill="url(#gGold)"/><circle cx="374.60" cy="759.90" r="4.00" fill="url(#gGold)"/><circle cx="379.40" cy="764.80" r="4.00" fill="url(#gGold)"/><circle cx="383.30" cy="768.90" r="4.00" fill="url(#gGold)"/><circle cx="386.70" cy="773.10" r="4.00" fill="url(#gGold)"/><circle cx="390.00" cy="776.00" r="4.00" fill="url(#gGold)"/><circle cx="393.40" cy="778.50" r="4.00" fill="url(#gGold)"/><circle cx="396.70" cy="780.20" r="4.00" fill="url(#gGold)"/><circle cx="400.90" cy="781.40" r="4.00" fill="url(#gGold)"/><circle cx="405.10" cy="782.30" r="4.00" fill="url(#gGold)"/><circle cx="409.30" cy="782.80" r="4.00" fill="url(#gGold)"/><circle cx="413.50" cy="783.30" r="4.00" fill="url(#gGold)"/><circle cx="416.80" cy="784.20" r="4.00" fill="url(#gGold)"/><circle cx="421.00" cy="785.60" r="4.00" fill="url(#gGold)"/><circle cx="425.20" cy="787.70" r="4.00" fill="url(#gGold)"/><circle cx="429.40" cy="790.20" r="4.00" fill="url(#gGold)"/><circle cx="432.70" cy="793.10" r="4.00" fill="url(#gGold)"/><circle cx="435.20" cy="796.10" r="4.00" fill="url(#gGold)"/><circle cx="437.30" cy="799.00" r="4.00" fill="url(#gGold)"/><circle cx="438.60" cy="801.90" r="4.00" fill="url(#gGold)"/><circle cx="439.40" cy="804.40" r="4.00" fill="url(#gGold)"/><circle cx="438.80" cy="806.60" r="4.00" fill="url(#gGold)"/><circle cx="430.20" cy="808.30" r="4.00" fill="url(#gGold)"/></g><rect x="65.10" y="588.20" width="439.40" height="219.80" fill="none" stroke="#1a1a1a" stroke-width="1.50"/><line x1="579.50" y1="806.60" x2="579.50" y2="811.60" stroke="#1a1a1a" stroke-width="1.30" /><line x1="675.07" y1="806.60" x2="675.07" y2="811.60" stroke="#1a1a1a" stroke-width="1.30" /><line x1="770.63" y1="806.60" x2="770.63" y2="811.60" stroke="#1a1a1a" stroke-width="1.30" /><line x1="866.20" y1="806.60" x2="866.20" y2="811.60" stroke="#1a1a1a" stroke-width="1.30" /><line x1="961.77" y1="806.60" x2="961.77" y2="811.60" stroke="#1a1a1a" stroke-width="1.30" /><line x1="1057.33" y1="806.60" x2="1057.33" y2="811.60" stroke="#1a1a1a" stroke-width="1.30" /><line x1="1152.90" y1="806.60" x2="1152.90" y2="811.60" stroke="#1a1a1a" stroke-width="1.30" /><line x1="627.28" y1="806.60" x2="627.28" y2="809.10" stroke="#1a1a1a" stroke-width="1.30" /><line x1="722.85" y1="806.60" x2="722.85" y2="809.10" stroke="#1a1a1a" stroke-width="1.30" /><line x1="818.42" y1="806.60" x2="818.42" y2="809.10" stroke="#1a1a1a" stroke-width="1.30" /><line x1="913.98" y1="806.60" x2="913.98" y2="809.10" stroke="#1a1a1a" stroke-width="1.30" /><line x1="1009.55" y1="806.60" x2="1009.55" y2="809.10" stroke="#1a1a1a" stroke-width="1.30" /><line x1="1105.12" y1="806.60" x2="1105.12" y2="809.10" stroke="#1a1a1a" stroke-width="1.30" /><line x1="579.50" y1="806.60" x2="574.50" y2="806.60" stroke="#1a1a1a" stroke-width="1.30" /><line x1="579.50" y1="752.08" x2="574.50" y2="752.08" stroke="#1a1a1a" stroke-width="1.30" /><line x1="579.50" y1="697.55" x2="574.50" y2="697.55" stroke="#1a1a1a" stroke-width="1.30" /><line x1="579.50" y1="643.02" x2="574.50" y2="643.02" stroke="#1a1a1a" stroke-width="1.30" /><line x1="579.50" y1="588.50" x2="574.50" y2="588.50" stroke="#1a1a1a" stroke-width="1.30" /><line x1="579.50" y1="779.34" x2="577.00" y2="779.34" stroke="#1a1a1a" stroke-width="1.30" /><line x1="579.50" y1="724.81" x2="577.00" y2="724.81" stroke="#1a1a1a" stroke-width="1.30" /><line x1="579.50" y1="670.29" x2="577.00" y2="670.29" stroke="#1a1a1a" stroke-width="1.30" /><line x1="579.50" y1="615.76" x2="577.00" y2="615.76" stroke="#1a1a1a" stroke-width="1.30" /><text x="579.50" y="828.90" font-size="15.60" text-anchor="middle" fill="#000" ><tspan>0</tspan></text><text x="675.07" y="828.90" font-size="15.60" text-anchor="middle" fill="#000" ><tspan>100</tspan></text><text x="770.63" y="828.90" font-size="15.60" text-anchor="middle" fill="#000" ><tspan>200</tspan></text><text x="866.20" y="828.90" font-size="15.60" text-anchor="middle" fill="#000" ><tspan>300</tspan></text><text x="961.77" y="828.90" font-size="15.60" text-anchor="middle" fill="#000" ><tspan>400</tspan></text><text x="1057.33" y="828.90" font-size="15.60" text-anchor="middle" fill="#000" ><tspan>500</tspan></text><text x="1152.90" y="828.90" font-size="15.60" text-anchor="middle" fill="#000" ><tspan>600</tspan></text><text x="570.20" y="811.50" font-size="15.60" text-anchor="end" fill="#000" ><tspan>1.0</tspan></text><text x="570.20" y="756.98" font-size="15.60" text-anchor="end" fill="#000" ><tspan>1.5</tspan></text><text x="570.20" y="702.45" font-size="15.60" text-anchor="end" fill="#000" ><tspan>2.0</tspan></text><text x="570.20" y="647.92" font-size="15.60" text-anchor="end" fill="#000" ><tspan>2.5</tspan></text><text x="570.20" y="593.40" font-size="15.60" text-anchor="end" fill="#000" ><tspan>3.0</tspan></text><text x="866.40" y="854.70" font-size="16.00" text-anchor="middle" fill="#000" ><tspan>Time (hour)</tspan></text><text x="541.60" y="697.60" font-size="15.80" text-anchor="middle" fill="#000" transform="rotate(-90 541.60 697.60)" ><tspan>Voltage (V)</tspan></text><circle cx="596.00" cy="601.80" r="5.10" fill="url(#gPink)"/><text x="611.80" y="607.20" font-size="14.40" text-anchor="start" fill="#000" ><tspan>MD-RuZrCoCrCeO</tspan><tspan dy="4.03" font-size="10.08">2</tspan><tspan dy="-4.03"> || Pt/C</tspan></text><circle cx="596.00" cy="623.00" r="5.10" fill="url(#gGold)"/><text x="611.80" y="628.10" font-size="14.40" text-anchor="start" fill="#000" ><tspan>C-RuO</tspan><tspan dy="4.03" font-size="10.08">2</tspan><tspan dy="-4.03"> || Pt/C</tspan></text><text x="586.30" y="650.80" font-size="15.70" text-anchor="start" fill="#000" ><tspan>PEM electrolyzer@60</tspan></text><text x="745.60" y="650.80" font-size="15.20" text-anchor="start" fill="#000" ><tspan>C</tspan></text><circle cx="746.2" cy="641.8" r="1.6" fill="none" stroke="#000" stroke-width="0.9"/><text x="1029.30" y="608.60" font-size="14.40" text-anchor="start" font-weight="bold" fill="#000" ><tspan>@200 mA cm</tspan><tspan dy="4.03" font-size="10.08">geo</tspan><tspan dy="-10.08" font-size="10.08">−2</tspan></text><text x="994.00" y="740.70" font-size="14.30" text-anchor="start" fill="#000" ><tspan>Decay rate:21.67 μV h</tspan><tspan dy="-6.01" font-size="10.01">−1</tspan></text><g clip-path="url(#clipF)"><circle cx="578.80" cy="754.80" r="5.30" fill="url(#gPink)"/><circle cx="586.47" cy="754.78" r="5.30" fill="url(#gPink)"/><circle cx="594.14" cy="754.77" r="5.30" fill="url(#gPink)"/><circle cx="601.81" cy="754.75" r="5.30" fill="url(#gPink)"/><circle cx="609.48" cy="754.73" r="5.30" fill="url(#gPink)"/><circle cx="617.15" cy="754.71" r="5.30" fill="url(#gPink)"/><circle cx="624.82" cy="754.69" r="5.30" fill="url(#gPink)"/><circle cx="632.49" cy="754.67" r="5.30" fill="url(#gPink)"/><circle cx="640.16" cy="754.65" r="5.30" fill="url(#gPink)"/><circle cx="647.83" cy="754.63" r="5.30" fill="url(#gPink)"/><circle cx="655.50" cy="754.61" r="5.30" fill="url(#gPink)"/><circle cx="663.17" cy="754.59" r="5.30" fill="url(#gPink)"/><circle cx="670.84" cy="754.58" r="5.30" fill="url(#gPink)"/><circle cx="678.51" cy="754.56" r="5.30" fill="url(#gPink)"/><circle cx="686.18" cy="754.54" r="5.30" fill="url(#gPink)"/><circle cx="693.85" cy="754.52" r="5.30" fill="url(#gPink)"/><circle cx="701.52" cy="754.50" r="5.30" fill="url(#gPink)"/><circle cx="709.19" cy="754.48" r="5.30" fill="url(#gPink)"/><circle cx="716.86" cy="754.46" r="5.30" fill="url(#gPink)"/><circle cx="724.53" cy="754.44" r="5.30" fill="url(#gPink)"/><circle cx="732.20" cy="754.42" r="5.30" fill="url(#gPink)"/><circle cx="739.87" cy="754.40" r="5.30" fill="url(#gPink)"/><circle cx="747.54" cy="754.39" r="5.30" fill="url(#gPink)"/><circle cx="755.21" cy="754.37" r="5.30" fill="url(#gPink)"/><circle cx="762.88" cy="754.35" r="5.30" fill="url(#gPink)"/><circle cx="770.55" cy="754.33" r="5.30" fill="url(#gPink)"/><circle cx="778.22" cy="754.31" r="5.30" fill="url(#gPink)"/><circle cx="785.89" cy="754.29" r="5.30" fill="url(#gPink)"/><circle cx="793.56" cy="754.27" r="5.30" fill="url(#gPink)"/><circle cx="801.23" cy="754.25" r="5.30" fill="url(#gPink)"/><circle cx="808.90" cy="754.23" r="5.30" fill="url(#gPink)"/><circle cx="816.57" cy="754.22" r="5.30" fill="url(#gPink)"/><circle cx="824.24" cy="754.20" r="5.30" fill="url(#gPink)"/><circle cx="831.91" cy="754.18" r="5.30" fill="url(#gPink)"/><circle cx="839.58" cy="754.16" r="5.30" fill="url(#gPink)"/><circle cx="847.25" cy="754.14" r="5.30" fill="url(#gPink)"/><circle cx="854.92" cy="754.12" r="5.30" fill="url(#gPink)"/><circle cx="862.59" cy="754.10" r="5.30" fill="url(#gPink)"/><circle cx="870.26" cy="754.08" r="5.30" fill="url(#gPink)"/><circle cx="877.93" cy="754.06" r="5.30" fill="url(#gPink)"/><circle cx="885.60" cy="754.04" r="5.30" fill="url(#gPink)"/><circle cx="893.27" cy="754.03" r="5.30" fill="url(#gPink)"/><circle cx="900.94" cy="754.01" r="5.30" fill="url(#gPink)"/><circle cx="908.61" cy="753.99" r="5.30" fill="url(#gPink)"/><circle cx="916.28" cy="753.97" r="5.30" fill="url(#gPink)"/><circle cx="923.95" cy="753.95" r="5.30" fill="url(#gPink)"/><circle cx="931.62" cy="753.93" r="5.30" fill="url(#gPink)"/><circle cx="939.29" cy="753.91" r="5.30" fill="url(#gPink)"/><circle cx="946.96" cy="753.89" r="5.30" fill="url(#gPink)"/><circle cx="954.63" cy="753.87" r="5.30" fill="url(#gPink)"/><circle cx="962.30" cy="753.85" r="5.30" fill="url(#gPink)"/><circle cx="969.97" cy="753.84" r="5.30" fill="url(#gPink)"/><circle cx="977.64" cy="753.82" r="5.30" fill="url(#gPink)"/><circle cx="985.31" cy="753.80" r="5.30" fill="url(#gPink)"/><circle cx="992.98" cy="753.78" r="5.30" fill="url(#gPink)"/><circle cx="1000.65" cy="753.76" r="5.30" fill="url(#gPink)"/><circle cx="1008.32" cy="753.74" r="5.30" fill="url(#gPink)"/><circle cx="1015.99" cy="753.72" r="5.30" fill="url(#gPink)"/><circle cx="1023.66" cy="753.70" r="5.30" fill="url(#gPink)"/><circle cx="1031.33" cy="753.68" r="5.30" fill="url(#gPink)"/><circle cx="1039.00" cy="753.67" r="5.30" fill="url(#gPink)"/><circle cx="1046.67" cy="753.65" r="5.30" fill="url(#gPink)"/><circle cx="1054.34" cy="753.63" r="5.30" fill="url(#gPink)"/><circle cx="1062.01" cy="753.61" r="5.30" fill="url(#gPink)"/><circle cx="1069.68" cy="753.59" r="5.30" fill="url(#gPink)"/><circle cx="1077.35" cy="753.57" r="5.30" fill="url(#gPink)"/><circle cx="1085.02" cy="753.55" r="5.30" fill="url(#gPink)"/><circle cx="1092.69" cy="753.53" r="5.30" fill="url(#gPink)"/><circle cx="1100.36" cy="753.51" r="5.30" fill="url(#gPink)"/><circle cx="1108.03" cy="753.49" r="5.30" fill="url(#gPink)"/><circle cx="1115.70" cy="753.48" r="5.30" fill="url(#gPink)"/><circle cx="1123.37" cy="753.46" r="5.30" fill="url(#gPink)"/><circle cx="1131.04" cy="753.44" r="5.30" fill="url(#gPink)"/><circle cx="1138.71" cy="753.42" r="5.30" fill="url(#gPink)"/><circle cx="1146.38" cy="753.40" r="5.30" fill="url(#gPink)"/><circle cx="1154.05" cy="753.38" r="5.30" fill="url(#gPink)"/><circle cx="579.60" cy="694.00" r="5.30" fill="url(#gGold)"/><circle cx="586.90" cy="684.70" r="5.30" fill="url(#gGold)"/><circle cx="594.58" cy="684.70" r="5.30" fill="url(#gGold)"/><circle cx="602.26" cy="684.70" r="5.30" fill="url(#gGold)"/><circle cx="609.94" cy="684.70" r="5.30" fill="url(#gGold)"/><circle cx="617.62" cy="684.70" r="5.30" fill="url(#gGold)"/><circle cx="625.30" cy="684.70" r="5.30" fill="url(#gGold)"/><circle cx="632.98" cy="684.70" r="5.30" fill="url(#gGold)"/><circle cx="640.66" cy="684.70" r="5.30" fill="url(#gGold)"/><circle cx="648.34" cy="684.70" r="5.30" fill="url(#gGold)"/><circle cx="656.02" cy="684.70" r="5.30" fill="url(#gGold)"/><circle cx="663.70" cy="684.70" r="5.30" fill="url(#gGold)"/><circle cx="671.38" cy="684.70" r="5.30" fill="url(#gGold)"/><circle cx="679.06" cy="684.70" r="5.30" fill="url(#gGold)"/><circle cx="686.74" cy="684.70" r="5.30" fill="url(#gGold)"/><circle cx="694.42" cy="684.70" r="5.30" fill="url(#gGold)"/><circle cx="702.10" cy="684.70" r="5.30" fill="url(#gGold)"/><circle cx="709.78" cy="684.70" r="5.30" fill="url(#gGold)"/><circle cx="717.46" cy="684.70" r="5.30" fill="url(#gGold)"/><circle cx="725.14" cy="684.70" r="5.30" fill="url(#gGold)"/><circle cx="732.82" cy="684.70" r="5.30" fill="url(#gGold)"/><circle cx="740.50" cy="684.70" r="5.30" fill="url(#gGold)"/><circle cx="748.18" cy="684.70" r="5.30" fill="url(#gGold)"/><circle cx="752.40" cy="677.40" r="5.30" fill="url(#gGold)"/><circle cx="754.90" cy="671.00" r="5.30" fill="url(#gGold)"/><circle cx="758.20" cy="666.80" r="5.30" fill="url(#gGold)"/></g><rect x="579.50" y="588.50" width="573.40" height="218.10" fill="none" stroke="#1a1a1a" stroke-width="1.50"/><polygon points="66.20,92.30 68.40,91.20 69.60,209.60 67.40,210.20" fill="#1f8fb2" stroke="none" stroke-width="1.00" /><polygon points="66.20,92.30 67.10,91.80 68.30,209.90 67.40,210.20" fill="#2fb2d2" stroke="none" stroke-width="1.00" /><polygon points="66.30,90.70 94.30,68.10 95.60,69.00 95.30,69.90 68.40,91.50" fill="#3fe2f4" stroke="none" stroke-width="1.00" /><path d="M68.40,91.20 L95.30,69.60 L98.00,187.20 L69.60,209.60 Z M73.20,106.90 L90.50,93.60 L92.60,171.80 L74.40,187.50 Z" fill="#145b7a" fill-rule="evenodd" stroke="#145b7a" stroke-width="0.4" stroke-linejoin="round"/><polygon points="88.30,94.80 90.50,93.60 92.60,171.80 90.40,172.40" fill="#2393b6" stroke="none" stroke-width="1.00" /><polygon points="74.40,185.90 90.40,170.80 92.60,171.80 74.40,187.50" fill="#3fd8ee" stroke="none" stroke-width="1.00" /><ellipse cx="93.80" cy="81.90" rx="1.2" ry="3.2" fill="#45dcf0"/><ellipse cx="93.80" cy="79.10" rx="1.0" ry="0.9" fill="#0c3a50"/><ellipse cx="82.00" cy="91.70" rx="1.2" ry="3.2" fill="#45dcf0"/><ellipse cx="82.00" cy="88.90" rx="1.0" ry="0.9" fill="#0c3a50"/><ellipse cx="70.50" cy="101.90" rx="1.2" ry="3.2" fill="#45dcf0"/><ellipse cx="70.50" cy="99.10" rx="1.0" ry="0.9" fill="#0c3a50"/><ellipse cx="72.50" cy="200.60" rx="1.2" ry="3.2" fill="#45dcf0"/><ellipse cx="72.50" cy="197.80" rx="1.0" ry="0.9" fill="#0c3a50"/><ellipse cx="84.20" cy="190.70" rx="1.2" ry="3.2" fill="#45dcf0"/><ellipse cx="84.20" cy="187.90" rx="1.0" ry="0.9" fill="#0c3a50"/><ellipse cx="96.00" cy="180.70" rx="1.2" ry="3.2" fill="#45dcf0"/><ellipse cx="96.00" cy="177.90" rx="1.0" ry="0.9" fill="#0c3a50"/><ellipse cx="70.80" cy="146.90" rx="1.2" ry="3.2" fill="#45dcf0"/><ellipse cx="70.80" cy="144.10" rx="1.0" ry="0.9" fill="#0c3a50"/><ellipse cx="95.60" cy="129.90" rx="1.2" ry="3.2" fill="#45dcf0"/><ellipse cx="95.60" cy="127.10" rx="1.0" ry="0.9" fill="#0c3a50"/><polygon points="98.80,92.50 125.20,71.00 144.50,71.00 146.50,190.00 120.20,213.20 104.40,213.20 99.80,205.00" fill="#ebebed" stroke="#c9c9cb" stroke-width="0.70" stroke-linejoin="round"/><polygon points="118.00,92.50 144.50,71.00 146.50,190.00 120.20,213.20" fill="#e4e4e7" stroke="#d0d0d2" stroke-width="0.60" /><polygon points="98.80,92.50 125.20,71.00 144.50,71.00 118.00,92.50" fill="#f2f2f3" stroke="#d0d0d2" stroke-width="0.60" /><line x1="118.00" y1="92.50" x2="120.20" y2="213.20" stroke="#cfcfd1" stroke-width="0.70" /><rect x="124.00" y="76.00" width="17.80" height="8.00" rx="1.5" fill="#dadadc" stroke="#c6c6c8" stroke-width="0.5"/><rect x="125.00" y="76.80" width="14.80" height="2.80" fill="#e6e6e8"/><ellipse cx="141.80" cy="80.00" rx="1.4" ry="4.00" fill="#f4f4f5" stroke="#c8c8ca" stroke-width="0.4"/><rect x="114.00" y="88.00" width="16.60" height="8.00" rx="1.5" fill="#dadadc" stroke="#c6c6c8" stroke-width="0.5"/><rect x="115.00" y="88.80" width="13.60" height="2.80" fill="#e6e6e8"/><ellipse cx="130.60" cy="92.00" rx="1.4" ry="4.00" fill="#f4f4f5" stroke="#c8c8ca" stroke-width="0.4"/><rect x="100.00" y="97.40" width="17.60" height="8.00" rx="1.5" fill="#dadadc" stroke="#c6c6c8" stroke-width="0.5"/><rect x="101.00" y="98.20" width="14.60" height="2.80" fill="#e6e6e8"/><ellipse cx="117.60" cy="101.40" rx="1.4" ry="4.00" fill="#f4f4f5" stroke="#c8c8ca" stroke-width="0.4"/><rect x="101.80" y="147.10" width="17.70" height="8.00" rx="1.5" fill="#dadadc" stroke="#c6c6c8" stroke-width="0.5"/><rect x="102.80" y="147.90" width="14.70" height="2.80" fill="#e6e6e8"/><ellipse cx="119.50" cy="151.10" rx="1.4" ry="4.00" fill="#f4f4f5" stroke="#c8c8ca" stroke-width="0.4"/><rect x="125.00" y="127.50" width="17.70" height="8.00" rx="1.5" fill="#dadadc" stroke="#c6c6c8" stroke-width="0.5"/><rect x="126.00" y="128.30" width="14.70" height="2.80" fill="#e6e6e8"/><ellipse cx="142.70" cy="131.50" rx="1.4" ry="4.00" fill="#f4f4f5" stroke="#c8c8ca" stroke-width="0.4"/><rect x="127.00" y="176.20" width="17.60" height="8.00" rx="1.5" fill="#dadadc" stroke="#c6c6c8" stroke-width="0.5"/><rect x="128.00" y="177.00" width="14.60" height="2.80" fill="#e6e6e8"/><ellipse cx="144.60" cy="180.20" rx="1.4" ry="4.00" fill="#f4f4f5" stroke="#c8c8ca" stroke-width="0.4"/><rect x="114.00" y="185.60" width="17.60" height="8.00" rx="1.5" fill="#dadadc" stroke="#c6c6c8" stroke-width="0.5"/><rect x="115.00" y="186.40" width="14.60" height="2.80" fill="#e6e6e8"/><ellipse cx="131.60" cy="189.60" rx="1.4" ry="4.00" fill="#f4f4f5" stroke="#c8c8ca" stroke-width="0.4"/><rect x="102.80" y="195.80" width="16.70" height="8.00" rx="1.5" fill="#dadadc" stroke="#c6c6c8" stroke-width="0.5"/><rect x="103.80" y="196.60" width="13.70" height="2.80" fill="#e6e6e8"/><ellipse cx="119.50" cy="199.80" rx="1.4" ry="4.00" fill="#f4f4f5" stroke="#c8c8ca" stroke-width="0.4"/><line x1="128.50" y1="106.00" x2="129.50" y2="200.00" stroke="#cacacc" stroke-width="1.30" /><line x1="134.30" y1="106.50" x2="134.30" y2="156.70" stroke="#cdcdcf" stroke-width="1.10" /><line x1="128.50" y1="106.00" x2="134.50" y2="105.00" stroke="#c6c6c8" stroke-width="1.00" /><line x1="114.00" y1="180.00" x2="121.00" y2="176.00" stroke="#c6c6c8" stroke-width="1.00" /><line x1="121.00" y1="176.00" x2="129.00" y2="176.00" stroke="#c6c6c8" stroke-width="1.00" /><g transform="rotate(-35 133.40 101.80)"><rect x="130.40" y="99.60" width="6" height="4.4" rx="1.2" fill="#e2e2e4" stroke="#a9a9ab" stroke-width="0.6"/><ellipse cx="136.40" cy="101.80" rx="1.3" ry="2.2" fill="#f0f0f0" stroke="#a0a0a2" stroke-width="0.5"/></g><g transform="rotate(-35 113.30 181.70)"><rect x="110.30" y="179.50" width="6" height="4.4" rx="1.2" fill="#e2e2e4" stroke="#a9a9ab" stroke-width="0.6"/><ellipse cx="116.30" cy="181.70" rx="1.3" ry="2.2" fill="#f0f0f0" stroke="#a0a0a2" stroke-width="0.5"/></g><polygon points="147.30,94.70 175.30,73.70 177.91,192.20 149.91,213.20" fill="#ffffff" stroke="#c9c9c9" stroke-width="0.80" stroke-linejoin="round"/><ellipse cx="150.29" cy="101.10" rx="1.45" ry="3.60" fill="#fff" stroke="#c8c8c8" stroke-width="0.55"/><ellipse cx="161.49" cy="92.90" rx="1.45" ry="3.60" fill="#fff" stroke="#c8c8c8" stroke-width="0.55"/><ellipse cx="172.97" cy="83.38" rx="1.45" ry="3.60" fill="#fff" stroke="#c8c8c8" stroke-width="0.55"/><ellipse cx="151.39" cy="151.10" rx="1.45" ry="3.60" fill="#fff" stroke="#c8c8c8" stroke-width="0.55"/><ellipse cx="174.56" cy="132.70" rx="1.45" ry="3.60" fill="#fff" stroke="#c8c8c8" stroke-width="0.55"/><ellipse cx="152.44" cy="199.10" rx="1.45" ry="3.60" fill="#fff" stroke="#c8c8c8" stroke-width="0.55"/><ellipse cx="163.64" cy="190.70" rx="1.45" ry="3.60" fill="#fff" stroke="#c8c8c8" stroke-width="0.55"/><ellipse cx="175.12" cy="181.07" rx="1.45" ry="3.60" fill="#fff" stroke="#c8c8c8" stroke-width="0.55"/><polygon points="157.07,122.95 157.87,122.35 158.97,172.35 158.17,172.95" fill="#fff" stroke="#cfcfcf" stroke-width="0.50" /><polygon points="165.07,116.95 165.87,116.35 166.97,166.35 166.17,166.95" fill="#fff" stroke="#cfcfcf" stroke-width="0.50" /><polygon points="177.40,67.80 180.80,66.80 183.40,214.60 180.00,215.60" fill="#d6d6d8" stroke="none" stroke-width="1.00" /><polygon points="180.80,68.20 187.60,63.10 192.20,86.60 208.70,74.10 211.30,192.60 183.40,214.60" fill="#7c6f7e" stroke="none" stroke-width="0.00" stroke-linejoin="round"/><polygon points="177.40,67.80 180.80,66.80 187.60,63.10 184.60,64.30" fill="#f3f3f3" stroke="none" stroke-width="1.00" /><ellipse cx="185.00" cy="77.00" rx="1.35" ry="3.5" fill="#ffffff"/><ellipse cx="185.00" cy="74.20" rx="1.1" ry="0.9" fill="#3d3540"/><ellipse cx="207.00" cy="85.50" rx="1.35" ry="3.5" fill="#ffffff"/><ellipse cx="207.00" cy="82.70" rx="1.1" ry="0.9" fill="#3d3540"/><ellipse cx="195.40" cy="95.30" rx="1.35" ry="3.5" fill="#ffffff"/><ellipse cx="195.40" cy="92.50" rx="1.1" ry="0.9" fill="#3d3540"/><ellipse cx="183.80" cy="105.00" rx="1.35" ry="3.5" fill="#ffffff"/><ellipse cx="183.80" cy="102.20" rx="1.1" ry="0.9" fill="#3d3540"/><ellipse cx="208.10" cy="134.40" rx="1.35" ry="3.5" fill="#ffffff"/><ellipse cx="208.10" cy="131.60" rx="1.1" ry="0.9" fill="#3d3540"/><ellipse cx="184.90" cy="154.30" rx="1.35" ry="3.5" fill="#ffffff"/><ellipse cx="184.90" cy="151.50" rx="1.1" ry="0.9" fill="#3d3540"/><ellipse cx="209.30" cy="185.30" rx="1.35" ry="3.5" fill="#ffffff"/><ellipse cx="209.30" cy="182.50" rx="1.1" ry="0.9" fill="#3d3540"/><ellipse cx="185.80" cy="205.10" rx="1.35" ry="3.5" fill="#ffffff"/><ellipse cx="185.80" cy="202.30" rx="1.1" ry="0.9" fill="#3d3540"/><ellipse cx="197.70" cy="193.50" rx="1.35" ry="3.5" fill="#ffffff"/><ellipse cx="197.70" cy="190.70" rx="1.1" ry="0.9" fill="#3d3540"/><polygon points="192.20,129.50 200.80,123.00 201.60,159.20 192.60,166.10" fill="#c9c0c9" stroke="none" stroke-width="1.00" /><line x1="192.22" y1="130.91" x2="200.83" y2="124.39" stroke="#f4f0f4" stroke-width="0.60" /><line x1="192.23" y1="132.32" x2="200.86" y2="125.78" stroke="#f4f0f4" stroke-width="0.60" /><line x1="192.25" y1="133.72" x2="200.89" y2="127.18" stroke="#f4f0f4" stroke-width="0.60" /><line x1="192.26" y1="135.13" x2="200.92" y2="128.57" stroke="#f4f0f4" stroke-width="0.60" /><line x1="192.28" y1="136.54" x2="200.95" y2="129.96" stroke="#f4f0f4" stroke-width="0.60" /><line x1="192.29" y1="137.95" x2="200.98" y2="131.35" stroke="#f4f0f4" stroke-width="0.60" /><line x1="192.31" y1="139.35" x2="201.02" y2="132.75" stroke="#f4f0f4" stroke-width="0.60" /><line x1="192.32" y1="140.76" x2="201.05" y2="134.14" stroke="#f4f0f4" stroke-width="0.60" /><line x1="192.34" y1="142.17" x2="201.08" y2="135.53" stroke="#f4f0f4" stroke-width="0.60" /><line x1="192.35" y1="143.58" x2="201.11" y2="136.92" stroke="#f4f0f4" stroke-width="0.60" /><line x1="192.37" y1="144.98" x2="201.14" y2="138.32" stroke="#f4f0f4" stroke-width="0.60" /><line x1="192.38" y1="146.39" x2="201.17" y2="139.71" stroke="#f4f0f4" stroke-width="0.60" /><line x1="192.40" y1="147.80" x2="201.20" y2="141.10" stroke="#f4f0f4" stroke-width="0.60" /><line x1="192.42" y1="149.21" x2="201.23" y2="142.49" stroke="#f4f0f4" stroke-width="0.60" /><line x1="192.43" y1="150.62" x2="201.26" y2="143.88" stroke="#f4f0f4" stroke-width="0.60" /><line x1="192.45" y1="152.02" x2="201.29" y2="145.28" stroke="#f4f0f4" stroke-width="0.60" /><line x1="192.46" y1="153.43" x2="201.32" y2="146.67" stroke="#f4f0f4" stroke-width="0.60" /><line x1="192.48" y1="154.84" x2="201.35" y2="148.06" stroke="#f4f0f4" stroke-width="0.60" /><line x1="192.49" y1="156.25" x2="201.38" y2="149.45" stroke="#f4f0f4" stroke-width="0.60" /><line x1="192.51" y1="157.65" x2="201.42" y2="150.85" stroke="#f4f0f4" stroke-width="0.60" /><line x1="192.52" y1="159.06" x2="201.45" y2="152.24" stroke="#f4f0f4" stroke-width="0.60" /><line x1="192.54" y1="160.47" x2="201.48" y2="153.63" stroke="#f4f0f4" stroke-width="0.60" /><line x1="192.55" y1="161.88" x2="201.51" y2="155.02" stroke="#f4f0f4" stroke-width="0.60" /><line x1="192.57" y1="163.28" x2="201.54" y2="156.42" stroke="#f4f0f4" stroke-width="0.60" /><line x1="192.58" y1="164.69" x2="201.57" y2="157.81" stroke="#f4f0f4" stroke-width="0.60" /><polygon points="222.60,131.90 231.90,124.90 232.60,161.00 223.70,167.40" fill="#2b262b" stroke="none" stroke-width="1.00" /><polygon points="242.60,99.60 270.60,78.60 273.21,197.10 245.21,218.10" fill="#ffffff" stroke="#c9c9c9" stroke-width="0.80" stroke-linejoin="round"/><ellipse cx="245.59" cy="106.00" rx="1.45" ry="3.60" fill="#fff" stroke="#c8c8c8" stroke-width="0.55"/><ellipse cx="256.79" cy="97.80" rx="1.45" ry="3.60" fill="#fff" stroke="#c8c8c8" stroke-width="0.55"/><ellipse cx="268.27" cy="88.27" rx="1.45" ry="3.60" fill="#fff" stroke="#c8c8c8" stroke-width="0.55"/><ellipse cx="246.69" cy="156.00" rx="1.45" ry="3.60" fill="#fff" stroke="#c8c8c8" stroke-width="0.55"/><ellipse cx="269.87" cy="137.60" rx="1.45" ry="3.60" fill="#fff" stroke="#c8c8c8" stroke-width="0.55"/><ellipse cx="247.74" cy="204.00" rx="1.45" ry="3.60" fill="#fff" stroke="#c8c8c8" stroke-width="0.55"/><ellipse cx="258.94" cy="195.60" rx="1.45" ry="3.60" fill="#fff" stroke="#c8c8c8" stroke-width="0.55"/><ellipse cx="270.42" cy="185.97" rx="1.45" ry="3.60" fill="#fff" stroke="#c8c8c8" stroke-width="0.55"/><polygon points="252.79,133.12 262.49,125.85 263.27,161.35 253.57,168.62" fill="none" stroke="#c8c8c8" stroke-width="0.60" /><polygon points="273.80,99.30 301.30,78.67 303.92,197.68 276.42,218.30" fill="#dcdcde" stroke="#c2c2c4" stroke-width="0.70" stroke-linejoin="round"/><ellipse cx="276.79" cy="105.70" rx="1.45" ry="3.60" fill="#f4f4f5" stroke="#b9b9bb" stroke-width="0.50"/><ellipse cx="287.99" cy="97.50" rx="1.45" ry="3.60" fill="#f4f4f5" stroke="#b9b9bb" stroke-width="0.50"/><ellipse cx="299.47" cy="87.97" rx="1.45" ry="3.60" fill="#f4f4f5" stroke="#b9b9bb" stroke-width="0.50"/><ellipse cx="277.89" cy="155.70" rx="1.45" ry="3.60" fill="#f4f4f5" stroke="#b9b9bb" stroke-width="0.50"/><ellipse cx="301.06" cy="137.30" rx="1.45" ry="3.60" fill="#f4f4f5" stroke="#b9b9bb" stroke-width="0.50"/><ellipse cx="278.94" cy="203.70" rx="1.45" ry="3.60" fill="#f4f4f5" stroke="#b9b9bb" stroke-width="0.50"/><ellipse cx="290.14" cy="195.30" rx="1.45" ry="3.60" fill="#f4f4f5" stroke="#b9b9bb" stroke-width="0.50"/><ellipse cx="301.62" cy="185.68" rx="1.45" ry="3.60" fill="#f4f4f5" stroke="#b9b9bb" stroke-width="0.50"/><polygon points="284.20,131.90 292.30,126.50 293.00,164.40 285.30,169.00" fill="#050505" stroke="none" stroke-width="1.00" /><polygon points="305.00,102.80 332.50,82.17 335.08,199.68 307.58,220.30" fill="#ffffff" stroke="#c9c9c9" stroke-width="0.80" stroke-linejoin="round"/><ellipse cx="307.99" cy="109.20" rx="1.45" ry="3.60" fill="#fff" stroke="#c8c8c8" stroke-width="0.55"/><ellipse cx="319.19" cy="101.00" rx="1.45" ry="3.60" fill="#fff" stroke="#c8c8c8" stroke-width="0.55"/><ellipse cx="330.67" cy="91.47" rx="1.45" ry="3.60" fill="#fff" stroke="#c8c8c8" stroke-width="0.55"/><ellipse cx="309.09" cy="159.20" rx="1.45" ry="3.60" fill="#fff" stroke="#c8c8c8" stroke-width="0.55"/><ellipse cx="332.26" cy="140.80" rx="1.45" ry="3.60" fill="#fff" stroke="#c8c8c8" stroke-width="0.55"/><ellipse cx="310.14" cy="207.20" rx="1.45" ry="3.60" fill="#fff" stroke="#c8c8c8" stroke-width="0.55"/><ellipse cx="321.34" cy="198.80" rx="1.45" ry="3.60" fill="#fff" stroke="#c8c8c8" stroke-width="0.55"/><ellipse cx="332.82" cy="189.18" rx="1.45" ry="3.60" fill="#fff" stroke="#c8c8c8" stroke-width="0.55"/><polygon points="315.19,136.32 324.89,129.05 325.67,164.55 315.97,171.82" fill="none" stroke="#c8c8c8" stroke-width="0.60" /><polygon points="345.60,135.30 353.70,129.50 354.40,165.60 346.70,172.60" fill="#2b262b" stroke="none" stroke-width="1.00" /><polygon points="365.50,104.60 369.00,102.80 371.60,221.60 368.10,223.40" fill="#f2bb63" stroke="none" stroke-width="1.00" /><polygon points="365.50,104.60 384.70,89.60 387.00,58.80 389.60,57.80 387.20,88.60 369.00,102.80" fill="#fdf6cc" stroke="none" stroke-width="1.00" /><polygon points="386.60,58.60 393.50,53.00 396.20,52.70 389.60,57.80" fill="#fdf6cc" stroke="none" stroke-width="1.00" /><polygon points="369.00,102.80 387.20,88.60 389.60,57.80 396.20,52.70 399.20,198.40 371.60,221.60" fill="#a1704a" stroke="none" stroke-width="1.00" /><ellipse cx="392.50" cy="67.00" rx="1.4" ry="3.4" fill="#fffbe8"/><ellipse cx="392.50" cy="65.70" rx="1.4" ry="1.6" fill="#f0c060"/><ellipse cx="392.50" cy="64.10" rx="1.1" ry="0.8" fill="#4a3520"/><ellipse cx="394.80" cy="91.00" rx="1.4" ry="3.4" fill="#fffbe8"/><ellipse cx="394.80" cy="89.70" rx="1.4" ry="1.6" fill="#f0c060"/><ellipse cx="394.80" cy="88.10" rx="1.1" ry="0.8" fill="#4a3520"/><ellipse cx="383.00" cy="100.50" rx="1.4" ry="3.4" fill="#fffbe8"/><ellipse cx="383.00" cy="99.20" rx="1.4" ry="1.6" fill="#f0c060"/><ellipse cx="383.00" cy="97.60" rx="1.1" ry="0.8" fill="#4a3520"/><ellipse cx="371.70" cy="109.70" rx="1.4" ry="3.4" fill="#fffbe8"/><ellipse cx="371.70" cy="108.40" rx="1.4" ry="1.6" fill="#f0c060"/><ellipse cx="371.70" cy="106.80" rx="1.1" ry="0.8" fill="#4a3520"/><ellipse cx="395.90" cy="142.40" rx="1.4" ry="3.4" fill="#fffbe8"/><ellipse cx="395.90" cy="141.10" rx="1.4" ry="1.6" fill="#f0c060"/><ellipse cx="395.90" cy="139.50" rx="1.1" ry="0.8" fill="#4a3520"/><ellipse cx="372.30" cy="161.90" rx="1.4" ry="3.4" fill="#fffbe8"/><ellipse cx="372.30" cy="160.60" rx="1.4" ry="1.6" fill="#f0c060"/><ellipse cx="372.30" cy="159.00" rx="1.1" ry="0.8" fill="#4a3520"/><ellipse cx="397.80" cy="191.00" rx="1.4" ry="3.4" fill="#fffbe8"/><ellipse cx="397.80" cy="189.70" rx="1.4" ry="1.6" fill="#f0c060"/><ellipse cx="397.80" cy="188.10" rx="1.1" ry="0.8" fill="#4a3520"/><ellipse cx="373.00" cy="206.00" rx="1.4" ry="3.4" fill="#fffbe8"/><ellipse cx="373.00" cy="204.70" rx="1.4" ry="1.6" fill="#f0c060"/><ellipse cx="373.00" cy="203.10" rx="1.1" ry="0.8" fill="#4a3520"/><ellipse cx="384.80" cy="200.00" rx="1.4" ry="3.4" fill="#fffbe8"/><ellipse cx="384.80" cy="198.70" rx="1.4" ry="1.6" fill="#f0c060"/><ellipse cx="384.80" cy="197.10" rx="1.1" ry="0.8" fill="#4a3520"/><polygon points="379.20,137.10 388.20,130.60 389.00,166.70 380.00,174.10" fill="#d9b27a" stroke="none" stroke-width="1.00" /><line x1="379.23" y1="138.52" x2="388.23" y2="131.99" stroke="#f3dba4" stroke-width="0.60" /><line x1="379.26" y1="139.95" x2="388.26" y2="133.38" stroke="#f3dba4" stroke-width="0.60" /><line x1="379.29" y1="141.37" x2="388.29" y2="134.77" stroke="#f3dba4" stroke-width="0.60" /><line x1="379.32" y1="142.79" x2="388.32" y2="136.15" stroke="#f3dba4" stroke-width="0.60" /><line x1="379.35" y1="144.22" x2="388.35" y2="137.54" stroke="#f3dba4" stroke-width="0.60" /><line x1="379.38" y1="145.64" x2="388.38" y2="138.93" stroke="#f3dba4" stroke-width="0.60" /><line x1="379.42" y1="147.06" x2="388.42" y2="140.32" stroke="#f3dba4" stroke-width="0.60" /><line x1="379.45" y1="148.48" x2="388.45" y2="141.71" stroke="#f3dba4" stroke-width="0.60" /><line x1="379.48" y1="149.91" x2="388.48" y2="143.10" stroke="#f3dba4" stroke-width="0.60" /><line x1="379.51" y1="151.33" x2="388.51" y2="144.48" stroke="#f3dba4" stroke-width="0.60" /><line x1="379.54" y1="152.75" x2="388.54" y2="145.87" stroke="#f3dba4" stroke-width="0.60" /><line x1="379.57" y1="154.18" x2="388.57" y2="147.26" stroke="#f3dba4" stroke-width="0.60" /><line x1="379.60" y1="155.60" x2="388.60" y2="148.65" stroke="#f3dba4" stroke-width="0.60" /><line x1="379.63" y1="157.02" x2="388.63" y2="150.04" stroke="#f3dba4" stroke-width="0.60" /><line x1="379.66" y1="158.45" x2="388.66" y2="151.43" stroke="#f3dba4" stroke-width="0.60" /><line x1="379.69" y1="159.87" x2="388.69" y2="152.82" stroke="#f3dba4" stroke-width="0.60" /><line x1="379.72" y1="161.29" x2="388.72" y2="154.20" stroke="#f3dba4" stroke-width="0.60" /><line x1="379.75" y1="162.72" x2="388.75" y2="155.59" stroke="#f3dba4" stroke-width="0.60" /><line x1="379.78" y1="164.14" x2="388.78" y2="156.98" stroke="#f3dba4" stroke-width="0.60" /><line x1="379.82" y1="165.56" x2="388.82" y2="158.37" stroke="#f3dba4" stroke-width="0.60" /><line x1="379.85" y1="166.98" x2="388.85" y2="159.76" stroke="#f3dba4" stroke-width="0.60" /><line x1="379.88" y1="168.41" x2="388.88" y2="161.15" stroke="#f3dba4" stroke-width="0.60" /><line x1="379.91" y1="169.83" x2="388.91" y2="162.53" stroke="#f3dba4" stroke-width="0.60" /><line x1="379.94" y1="171.25" x2="388.94" y2="163.92" stroke="#f3dba4" stroke-width="0.60" /><line x1="379.97" y1="172.68" x2="388.97" y2="165.31" stroke="#f3dba4" stroke-width="0.60" /><polygon points="400.40,106.30 427.90,85.67 430.48,203.18 402.98,223.80" fill="#ffffff" stroke="#c9c9c9" stroke-width="0.80" stroke-linejoin="round"/><ellipse cx="403.39" cy="112.70" rx="1.45" ry="3.60" fill="#fff" stroke="#c8c8c8" stroke-width="0.55"/><ellipse cx="414.59" cy="104.50" rx="1.45" ry="3.60" fill="#fff" stroke="#c8c8c8" stroke-width="0.55"/><ellipse cx="426.07" cy="94.97" rx="1.45" ry="3.60" fill="#fff" stroke="#c8c8c8" stroke-width="0.55"/><ellipse cx="404.49" cy="162.70" rx="1.45" ry="3.60" fill="#fff" stroke="#c8c8c8" stroke-width="0.55"/><ellipse cx="427.66" cy="144.30" rx="1.45" ry="3.60" fill="#fff" stroke="#c8c8c8" stroke-width="0.55"/><ellipse cx="405.54" cy="210.70" rx="1.45" ry="3.60" fill="#fff" stroke="#c8c8c8" stroke-width="0.55"/><ellipse cx="416.74" cy="202.30" rx="1.45" ry="3.60" fill="#fff" stroke="#c8c8c8" stroke-width="0.55"/><ellipse cx="428.22" cy="192.68" rx="1.45" ry="3.60" fill="#fff" stroke="#c8c8c8" stroke-width="0.55"/><polygon points="410.17,134.55 410.97,133.95 412.07,183.95 411.27,184.55" fill="#fff" stroke="#cfcfcf" stroke-width="0.50" /><polygon points="418.17,128.55 418.97,127.95 420.07,177.95 419.27,178.55" fill="#fff" stroke="#cfcfcf" stroke-width="0.50" /><polygon points="430.60,105.70 456.60,84.30 475.20,84.30 478.00,197.70 453.80,223.70 433.40,223.70 431.40,215.00" fill="#ebebed" stroke="#c9c9cb" stroke-width="0.70" stroke-linejoin="round"/><polygon points="448.20,106.50 475.20,84.30 478.00,197.70 453.80,221.50" fill="#e4e4e7" stroke="#d0d0d2" stroke-width="0.60" /><polygon points="430.60,105.70 456.60,84.30 475.20,84.30 449.20,105.70" fill="#f2f2f3" stroke="#d0d0d2" stroke-width="0.60" /><line x1="448.20" y1="106.00" x2="452.90" y2="221.90" stroke="#cfcfd1" stroke-width="0.70" /><rect x="456.60" y="91.00" width="18.60" height="8.00" rx="1.5" fill="#dadadc" stroke="#c6c6c8" stroke-width="0.5"/><rect x="457.60" y="91.80" width="15.60" height="2.80" fill="#e6e6e8"/><ellipse cx="475.20" cy="95.00" rx="1.4" ry="4.00" fill="#f4f4f5" stroke="#c8c8ca" stroke-width="0.4"/><rect x="443.60" y="101.20" width="19.50" height="8.00" rx="1.5" fill="#dadadc" stroke="#c6c6c8" stroke-width="0.5"/><rect x="444.60" y="102.00" width="16.50" height="2.80" fill="#e6e6e8"/><ellipse cx="463.10" cy="105.20" rx="1.4" ry="4.00" fill="#f4f4f5" stroke="#c8c8ca" stroke-width="0.4"/><rect x="432.40" y="111.50" width="18.60" height="8.00" rx="1.5" fill="#dadadc" stroke="#c6c6c8" stroke-width="0.5"/><rect x="433.40" y="112.30" width="15.60" height="2.80" fill="#e6e6e8"/><ellipse cx="451.00" cy="115.50" rx="1.4" ry="4.00" fill="#f4f4f5" stroke="#c8c8ca" stroke-width="0.4"/><rect x="457.50" y="141.20" width="17.70" height="8.00" rx="1.5" fill="#dadadc" stroke="#c6c6c8" stroke-width="0.5"/><rect x="458.50" y="142.00" width="14.70" height="2.80" fill="#e6e6e8"/><ellipse cx="475.20" cy="145.20" rx="1.4" ry="4.00" fill="#f4f4f5" stroke="#c8c8ca" stroke-width="0.4"/><rect x="433.40" y="160.70" width="18.60" height="8.00" rx="1.5" fill="#dadadc" stroke="#c6c6c8" stroke-width="0.5"/><rect x="434.40" y="161.50" width="15.60" height="2.80" fill="#e6e6e8"/><ellipse cx="452.00" cy="164.70" rx="1.4" ry="4.00" fill="#f4f4f5" stroke="#c8c8ca" stroke-width="0.4"/><rect x="457.50" y="189.50" width="18.60" height="8.00" rx="1.5" fill="#dadadc" stroke="#c6c6c8" stroke-width="0.5"/><rect x="458.50" y="190.30" width="15.60" height="2.80" fill="#e6e6e8"/><ellipse cx="476.10" cy="193.50" rx="1.4" ry="4.00" fill="#f4f4f5" stroke="#c8c8ca" stroke-width="0.4"/><rect x="445.40" y="199.80" width="19.60" height="8.00" rx="1.5" fill="#dadadc" stroke="#c6c6c8" stroke-width="0.5"/><rect x="446.40" y="200.60" width="16.60" height="2.80" fill="#e6e6e8"/><ellipse cx="465.00" cy="203.80" rx="1.4" ry="4.00" fill="#f4f4f5" stroke="#c8c8ca" stroke-width="0.4"/><rect x="433.40" y="210.00" width="19.50" height="8.00" rx="1.5" fill="#dadadc" stroke="#c6c6c8" stroke-width="0.5"/><rect x="434.40" y="210.80" width="16.50" height="2.80" fill="#e6e6e8"/><ellipse cx="452.90" cy="214.00" rx="1.4" ry="4.00" fill="#f4f4f5" stroke="#c8c8ca" stroke-width="0.4"/><line x1="442.70" y1="128.00" x2="442.70" y2="176.30" stroke="#cacacc" stroke-width="1.20" /><line x1="450.10" y1="132.60" x2="450.10" y2="181.00" stroke="#cdcdcf" stroke-width="1.10" /><line x1="450.10" y1="181.00" x2="461.00" y2="181.50" stroke="#c6c6c8" stroke-width="1.00" /><line x1="461.00" y1="181.50" x2="467.50" y2="175.00" stroke="#c6c6c8" stroke-width="1.00" /><g transform="rotate(-35 447.30 129.80)"><rect x="444.30" y="127.60" width="6" height="4.4" rx="1.2" fill="#e2e2e4" stroke="#a9a9ab" stroke-width="0.6"/><ellipse cx="450.30" cy="129.80" rx="1.3" ry="2.2" fill="#f0f0f0" stroke="#a0a0a2" stroke-width="0.5"/></g><g transform="rotate(-35 468.70 173.50)"><rect x="465.70" y="171.30" width="6" height="4.4" rx="1.2" fill="#e2e2e4" stroke="#a9a9ab" stroke-width="0.6"/><ellipse cx="471.70" cy="173.50" rx="1.3" ry="2.2" fill="#f0f0f0" stroke="#a0a0a2" stroke-width="0.5"/></g><polygon points="479.60,109.10 481.80,108.00 483.00,225.60 480.80,226.20" fill="#1f8fb2" stroke="none" stroke-width="1.00" /><polygon points="479.60,109.10 480.50,108.60 481.70,225.90 480.80,226.20" fill="#2fb2d2" stroke="none" stroke-width="1.00" /><polygon points="479.70,107.50 507.60,84.50 508.90,85.40 508.60,86.30 481.80,108.30" fill="#3fe2f4" stroke="none" stroke-width="1.00" /><path d="M481.80,108.00 L508.60,86.00 L511.30,202.60 L483.00,225.60 Z M486.20,124.30 L503.30,110.00 L505.40,188.80 L488.00,203.50 Z" fill="#145b7a" fill-rule="evenodd" stroke="#145b7a" stroke-width="0.4" stroke-linejoin="round"/><polygon points="501.10,111.20 503.30,110.00 505.40,188.80 503.20,189.40" fill="#2393b6" stroke="none" stroke-width="1.00" /><polygon points="488.00,201.90 503.20,187.80 505.40,188.80 488.00,203.50" fill="#3fd8ee" stroke="none" stroke-width="1.00" /><ellipse cx="507.40" cy="98.30" rx="1.2" ry="3.2" fill="#45dcf0"/><ellipse cx="507.40" cy="95.50" rx="1.0" ry="0.9" fill="#0c3a50"/><ellipse cx="495.30" cy="108.10" rx="1.2" ry="3.2" fill="#45dcf0"/><ellipse cx="495.30" cy="105.30" rx="1.0" ry="0.9" fill="#0c3a50"/><ellipse cx="483.80" cy="118.20" rx="1.2" ry="3.2" fill="#45dcf0"/><ellipse cx="483.80" cy="115.40" rx="1.0" ry="0.9" fill="#0c3a50"/><ellipse cx="485.60" cy="216.90" rx="1.2" ry="3.2" fill="#45dcf0"/><ellipse cx="485.60" cy="214.10" rx="1.0" ry="0.9" fill="#0c3a50"/><ellipse cx="497.40" cy="207.20" rx="1.2" ry="3.2" fill="#45dcf0"/><ellipse cx="497.40" cy="204.40" rx="1.0" ry="0.9" fill="#0c3a50"/><ellipse cx="509.20" cy="197.40" rx="1.2" ry="3.2" fill="#45dcf0"/><ellipse cx="509.20" cy="194.60" rx="1.0" ry="0.9" fill="#0c3a50"/><ellipse cx="484.50" cy="164.90" rx="1.2" ry="3.2" fill="#45dcf0"/><ellipse cx="484.50" cy="162.10" rx="1.0" ry="0.9" fill="#0c3a50"/><ellipse cx="508.50" cy="147.90" rx="1.2" ry="3.2" fill="#45dcf0"/><ellipse cx="508.50" cy="145.10" rx="1.0" ry="0.9" fill="#0c3a50"/><text x="180.30" y="27.80" font-size="16.00" text-anchor="middle" font-weight="bold" fill="#000" ><tspan>ABP</tspan></text><line x1="180.90" y1="33.50" x2="180.90" y2="56.50" stroke="#000" stroke-width="1.70" /><polygon points="180.90,63.50 177.20,55.50 184.60,55.50" fill="#000" stroke="none" stroke-width="1.00" /><text x="229.70" y="49.40" font-size="16.00" text-anchor="middle" font-weight="bold" fill="#000" ><tspan>Pt/Ti felt</tspan></text><line x1="227.70" y1="57.20" x2="227.70" y2="118.00" stroke="#000" stroke-width="1.70" /><polygon points="227.70,125.00 224.00,117.00 231.40,117.00" fill="#000" stroke="none" stroke-width="1.00" /><text x="141.70" y="64.60" font-size="16.00" text-anchor="middle" font-weight="bold" fill="#000" ><tspan>H</tspan><tspan dy="4.48" font-size="11.20">2</tspan><tspan dy="-4.48">O+O</tspan><tspan dy="4.48" font-size="11.20">2</tspan></text><line x1="137.00" y1="98.50" x2="149.93" y2="87.21" stroke="#000" stroke-width="1.70" /><polygon points="155.20,82.60 151.61,90.65 146.74,85.08" fill="#000" stroke="none" stroke-width="1.00" /><text x="91.30" y="218.00" font-size="16.00" text-anchor="middle" font-weight="bold" fill="#000" ><tspan>H</tspan><tspan dy="4.48" font-size="11.20">2</tspan><tspan dy="-4.48">O</tspan></text><line x1="91.30" y1="199.30" x2="104.26" y2="187.84" stroke="#000" stroke-width="1.70" /><polygon points="109.50,183.20 105.96,191.27 101.06,185.73" fill="#000" stroke="none" stroke-width="1.00" /><text x="287.90" y="27.60" font-size="16.00" text-anchor="middle" font-weight="bold" fill="#000" ><tspan>CCM</tspan></text><line x1="288.30" y1="33.20" x2="288.30" y2="79.00" stroke="#000" stroke-width="1.70" /><polygon points="288.30,86.00 284.60,78.00 292.00,78.00" fill="#000" stroke="none" stroke-width="1.00" /><text x="351.40" y="50.60" font-size="16.00" text-anchor="middle" font-weight="bold" fill="#000" ><tspan>CP</tspan></text><line x1="349.60" y1="56.20" x2="349.60" y2="123.50" stroke="#000" stroke-width="1.70" /><polygon points="349.60,130.50 345.90,122.50 353.30,122.50" fill="#000" stroke="none" stroke-width="1.00" /><text x="394.50" y="26.80" font-size="16.00" text-anchor="middle" font-weight="bold" fill="#000" ><tspan>CBP</tspan></text><line x1="395.60" y1="33.20" x2="395.60" y2="45.60" stroke="#000" stroke-width="1.70" /><polygon points="395.60,52.60 391.90,44.60 399.30,44.60" fill="#000" stroke="none" stroke-width="1.00" /><text x="425.00" y="165.60" font-size="16.00" text-anchor="middle" font-weight="bold" fill="#000" ><tspan>H</tspan><tspan dy="4.48" font-size="11.20">2</tspan></text><line x1="442.80" y1="133.00" x2="430.94" y2="143.07" stroke="#000" stroke-width="1.70" /><polygon points="425.60,147.60 429.30,139.60 434.09,145.24" fill="#000" stroke="none" stroke-width="1.00" /><text x="278.50" y="260.30" font-size="16.00" text-anchor="middle" font-weight="bold" fill="#000" ><tspan>Gasket</tspan></text><line x1="247.20" y1="254.70" x2="157.63" y2="216.26" stroke="#000" stroke-width="1.70" /><polygon points="151.20,213.50 160.01,213.25 157.09,220.06" fill="#000" stroke="none" stroke-width="1.00" /><line x1="258.10" y1="242.40" x2="249.43" y2="224.31" stroke="#000" stroke-width="1.70" /><polygon points="246.40,218.00 253.20,223.61 246.52,226.81" fill="#000" stroke="none" stroke-width="1.00" /><line x1="295.90" y1="241.70" x2="304.61" y2="226.57" stroke="#000" stroke-width="1.70" /><polygon points="308.10,220.50 307.32,229.28 300.90,225.59" fill="#000" stroke="none" stroke-width="1.00" /><line x1="316.90" y1="255.20" x2="394.85" y2="225.68" stroke="#000" stroke-width="1.70" /><polygon points="401.40,223.20 395.23,229.49 392.61,222.57" fill="#000" stroke="none" stroke-width="1.00" /></svg></body></html>
